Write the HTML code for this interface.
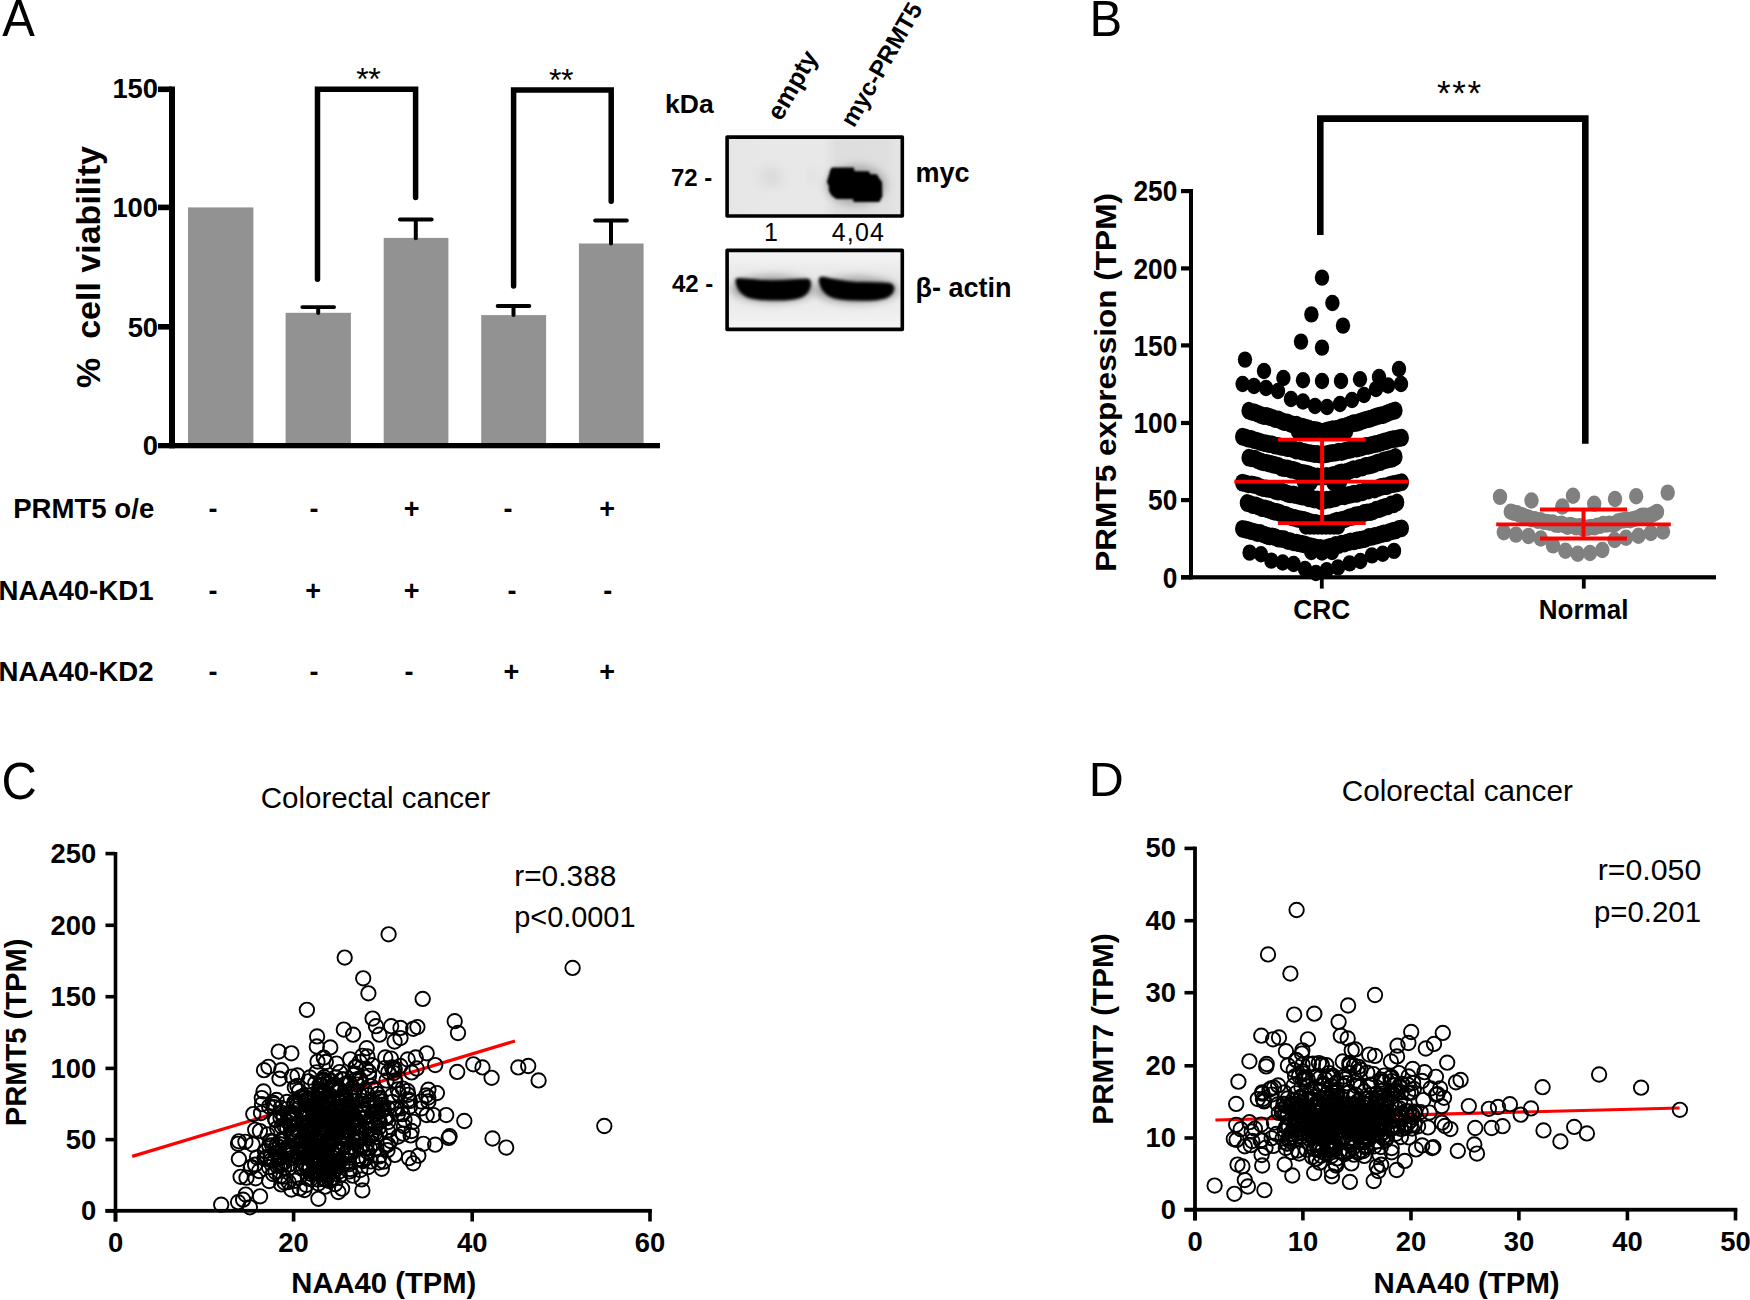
<!DOCTYPE html>
<html lang="en"><head><meta charset="utf-8"><title>Figure</title>
<style>
html,body{margin:0;padding:0;background:#fff;}
body{width:1750px;height:1300px;overflow:hidden;}
svg{display:block;}
svg text{font-family:"Liberation Sans", sans-serif;fill:#000;}
</style></head><body>
<svg width="1750" height="1300" viewBox="0 0 1750 1300">
<rect width="1750" height="1300" fill="#fff"/>
<g id="panelA">
<text transform="translate(2.2,36) scale(0.94,1)" font-size="52">A</text>
<rect x="188.00" y="207.40" width="65.40" height="236.60" fill="#929292"/>
<rect x="285.60" y="312.80" width="65.30" height="131.20" fill="#929292"/>
<rect x="383.70" y="237.90" width="64.70" height="206.10" fill="#929292"/>
<rect x="481.20" y="315.10" width="64.90" height="128.90" fill="#929292"/>
<rect x="578.90" y="243.50" width="64.70" height="200.50" fill="#929292"/>
<line x1="318.20" y1="307.70" x2="318.20" y2="313.00" stroke="#000" stroke-width="4" stroke-linecap="round"/>
<line x1="302.30" y1="307.10" x2="334.10" y2="307.10" stroke="#000" stroke-width="3.8" stroke-linecap="round"/>
<line x1="415.80" y1="220.10" x2="415.80" y2="238.30" stroke="#000" stroke-width="4" stroke-linecap="round"/>
<line x1="399.90" y1="219.50" x2="431.70" y2="219.50" stroke="#000" stroke-width="3.8" stroke-linecap="round"/>
<line x1="513.50" y1="306.60" x2="513.50" y2="315.00" stroke="#000" stroke-width="4" stroke-linecap="round"/>
<line x1="497.60" y1="306.00" x2="529.40" y2="306.00" stroke="#000" stroke-width="3.8" stroke-linecap="round"/>
<line x1="611.00" y1="221.10" x2="611.00" y2="243.50" stroke="#000" stroke-width="4" stroke-linecap="round"/>
<line x1="595.10" y1="220.50" x2="626.90" y2="220.50" stroke="#000" stroke-width="3.8" stroke-linecap="round"/>
<rect x="169.00" y="86.50" width="6.00" height="361.80" fill="#000"/>
<rect x="158.00" y="443.00" width="502.00" height="5.30" fill="#000"/>
<rect x="158.00" y="86.50" width="14.00" height="5.60" fill="#000"/>
<rect x="158.00" y="204.60" width="14.00" height="5.60" fill="#000"/>
<rect x="158.00" y="324.00" width="14.00" height="5.60" fill="#000"/>
<text x="158.1" y="98.3" font-size="27.4" font-weight="700" text-anchor="end">150</text>
<text x="158.1" y="217.2" font-size="27.4" font-weight="700" text-anchor="end">100</text>
<text x="158.1" y="336.5" font-size="27.4" font-weight="700" text-anchor="end">50</text>
<text x="158.1" y="455.1" font-size="27.4" font-weight="700" text-anchor="end">0</text>
<text transform="translate(99.8,267) rotate(-90)" font-size="34" font-weight="700" text-anchor="middle" style="white-space:pre">%  cell viability</text>
<path d="M317.5 279.35 V89.2 H415.6 V197.45" fill="none" stroke="#000" stroke-width="5.5" stroke-linecap="round" stroke-linejoin="miter"/>
<path d="M513.6 286.05 V90.1 H611.2 V201.25" fill="none" stroke="#000" stroke-width="5.5" stroke-linecap="round" stroke-linejoin="miter"/>
<text x="368.3" y="90.0" font-size="32" text-anchor="middle" letter-spacing="-0.5">**</text>
<text x="560.9" y="90.9" font-size="32" text-anchor="middle" letter-spacing="-0.5">**</text>
<text x="13.2" y="518" font-size="27.6" font-weight="700" text-anchor="start">PRMT5 o/e</text>
<text x="-1.4" y="599.6" font-size="27.6" font-weight="700" text-anchor="start">NAA40-KD1</text>
<text x="-1.4" y="680.6" font-size="27.6" font-weight="700" text-anchor="start">NAA40-KD2</text>
<text x="213" y="518" font-size="27" font-weight="700" text-anchor="middle">-</text>
<text x="314" y="518" font-size="27" font-weight="700" text-anchor="middle">-</text>
<text x="411.6" y="518" font-size="27" font-weight="700" text-anchor="middle">+</text>
<text x="508" y="518" font-size="27" font-weight="700" text-anchor="middle">-</text>
<text x="607.2" y="518" font-size="27" font-weight="700" text-anchor="middle">+</text>
<text x="213" y="599.6" font-size="27" font-weight="700" text-anchor="middle">-</text>
<text x="313.2" y="599.6" font-size="27" font-weight="700" text-anchor="middle">+</text>
<text x="411.6" y="599.6" font-size="27" font-weight="700" text-anchor="middle">+</text>
<text x="512" y="599.6" font-size="27" font-weight="700" text-anchor="middle">-</text>
<text x="607.8" y="599.6" font-size="27" font-weight="700" text-anchor="middle">-</text>
<text x="213" y="680.6" font-size="27" font-weight="700" text-anchor="middle">-</text>
<text x="314" y="680.6" font-size="27" font-weight="700" text-anchor="middle">-</text>
<text x="409" y="680.6" font-size="27" font-weight="700" text-anchor="middle">-</text>
<text x="511.5" y="680.6" font-size="27" font-weight="700" text-anchor="middle">+</text>
<text x="607.2" y="680.6" font-size="27" font-weight="700" text-anchor="middle">+</text>
</g>
<g id="blot">
<defs>
<filter id="bl1" x="-20%" y="-20%" width="140%" height="140%"><feGaussianBlur stdDeviation="1.0"/></filter>
<filter id="bl2" x="-20%" y="-30%" width="140%" height="160%"><feGaussianBlur stdDeviation="1.7"/></filter>
<filter id="bl4" x="-50%" y="-100%" width="200%" height="300%"><feGaussianBlur stdDeviation="4.5"/></filter>
<filter id="bl3" x="-50%" y="-50%" width="200%" height="200%"><feGaussianBlur stdDeviation="7"/></filter>
<linearGradient id="g1" x1="0" x2="1" y1="0" y2="0"><stop offset="0" stop-color="#e6e6e6"/><stop offset="0.25" stop-color="#e8e8e8"/><stop offset="0.55" stop-color="#e8e8e8"/><stop offset="0.62" stop-color="#dedede"/><stop offset="0.9" stop-color="#dfdfdf"/><stop offset="1" stop-color="#e6e6e6"/></linearGradient>
<linearGradient id="g2" x1="0" x2="0" y1="0" y2="1"><stop offset="0" stop-color="#f4f4f4"/><stop offset="0.3" stop-color="#e9e9e9"/><stop offset="0.75" stop-color="#ededed"/><stop offset="1" stop-color="#f5f5f5"/></linearGradient>
<clipPath id="c1"><rect x="727" y="136.5" width="176" height="80"/></clipPath>
<clipPath id="c2"><rect x="727" y="250" width="176" height="80"/></clipPath>
</defs>
<rect x="727" y="136.5" width="176" height="80" fill="url(#g1)"/>
<g clip-path="url(#c1)">
<ellipse cx="771" cy="177" rx="11" ry="8" fill="#d4d4d4" filter="url(#bl3)"/>
<ellipse cx="813" cy="176" rx="4" ry="6" fill="#d8d8d8" filter="url(#bl3)"/>
<ellipse cx="856" cy="185" rx="30" ry="20" fill="#a8a8a8" filter="url(#bl4)"/>
<path d="M832.1 168 L853.2 168 L854.2 171.6 L868.6 171.9 L869.9 174.7 L876.4 174.9 L878.9 178.8 L881.5 182.4 L881.8 196.3 L878.9 201.4 L854.2 201.4 L853.2 198.4 L836.7 198.4 L832.1 195.3 L829.5 190.6 L829.5 186 L827.5 181.9 L829.8 174.2 L830.6 170.6 Z" fill="#000" stroke="#000" stroke-width="1.2" stroke-linejoin="round" filter="url(#bl1)"/>
</g>
<rect x="727.1" y="137.1" width="175.2" height="78.9" fill="none" stroke="#000" stroke-width="3.6" stroke-linejoin="round"/>
<rect x="727" y="250" width="176" height="80" fill="url(#g2)"/>
<g clip-path="url(#c2)">
<ellipse cx="773" cy="289" rx="42" ry="13" fill="#9a9a9a" filter="url(#bl4)"/>
<ellipse cx="856.5" cy="290" rx="42" ry="13" fill="#9a9a9a" filter="url(#bl4)"/>
<path d="M736 281 Q736.5 278 740 278.8 L760 280.6 Q775 281.3 790 280.3 L805 279.3 Q810 278.8 810.3 283 Q810.5 291 803 296 Q795 299.8 775 299.8 Q755 299.8 747 296.5 Q737.5 292 736 281 Z" fill="#000" stroke="#000" stroke-width="1.5" stroke-linejoin="round" filter="url(#bl2)"/>
<path d="M819.3 280 Q819.5 276.3 824 277.6 Q838 281.3 855 282.6 L885 283.3 Q893 283.3 893.6 288 Q893.5 294 886 297.5 Q878 300.2 860 300 Q838 299.7 830 296 Q820.5 291 819.3 280 Z" fill="#000" stroke="#000" stroke-width="1.5" stroke-linejoin="round" filter="url(#bl2)"/>
</g>
<rect x="727.1" y="250.4" width="175.2" height="79" fill="none" stroke="#000" stroke-width="3.6" stroke-linejoin="round"/>
<text x="665" y="113.4" font-size="26.5" font-weight="700" text-anchor="start">kDa</text>
<text x="671" y="186.2" font-size="24" font-weight="700" text-anchor="start">72 -</text>
<text x="672" y="291.5" font-size="24" font-weight="700" text-anchor="start">42 -</text>
<text x="915.5" y="181.9" font-size="27" font-weight="700" text-anchor="start">myc</text>
<text x="915.5" y="297" font-size="27" font-weight="700" text-anchor="start">β- actin</text>
<text x="771" y="240.6" font-size="25" text-anchor="middle">1</text>
<text x="858.5" y="240.6" font-size="25" text-anchor="middle" letter-spacing="1.2">4,04</text>
<text transform="translate(781,122) rotate(-60)" font-size="25.5" font-weight="700">empty</text>
<text transform="translate(854,128.5) rotate(-60)" font-size="24.2" font-weight="700">myc-PRMT5</text>
</g>
<g id="panelB">
<text transform="translate(1089.5,36) scale(0.99,1)" font-size="49.5">B</text>
<rect x="1189.00" y="189.00" width="4.00" height="390.40" fill="#000"/>
<rect x="1181.00" y="575.20" width="535.00" height="4.20" fill="#000"/>
<rect x="1181.00" y="189.00" width="10.00" height="4.20" fill="#000"/>
<text transform="translate(1177.3,201.3) scale(1,1.09)" font-size="26.3" font-weight="700" text-anchor="end">250</text>
<rect x="1181.00" y="266.30" width="10.00" height="4.20" fill="#000"/>
<text transform="translate(1177.3,278.6) scale(1,1.09)" font-size="26.3" font-weight="700" text-anchor="end">200</text>
<rect x="1181.00" y="343.30" width="10.00" height="4.20" fill="#000"/>
<text transform="translate(1177.3,355.6) scale(1,1.09)" font-size="26.3" font-weight="700" text-anchor="end">150</text>
<rect x="1181.00" y="420.90" width="10.00" height="4.20" fill="#000"/>
<text transform="translate(1177.3,433.2) scale(1,1.09)" font-size="26.3" font-weight="700" text-anchor="end">100</text>
<rect x="1181.00" y="498.00" width="10.00" height="4.20" fill="#000"/>
<text transform="translate(1177.3,510.3) scale(1,1.09)" font-size="26.3" font-weight="700" text-anchor="end">50</text>
<rect x="1181.00" y="575.20" width="10.00" height="4.20" fill="#000"/>
<text transform="translate(1177.3,587.5) scale(1,1.09)" font-size="26.3" font-weight="700" text-anchor="end">0</text>
<rect x="1319.90" y="577.00" width="3.80" height="11.60" fill="#000"/>
<rect x="1581.90" y="577.00" width="3.80" height="11.60" fill="#000"/>
<text transform="translate(1321.8,619.2) scale(1,1.06)" font-size="26.3" font-weight="700" text-anchor="middle">CRC</text>
<text transform="translate(1583.6,619.3) scale(1,1.04)" font-size="26" font-weight="700" text-anchor="middle">Normal</text>
<text transform="translate(1115.5,382.4) scale(1,1.045) rotate(-90)" font-size="30.2" font-weight="700" text-anchor="middle">PRMT5 expression (TPM)</text>
<path d="M1320.3 235 V118.6 H1585.3 V443.8" fill="none" stroke="#000" stroke-width="6.6" stroke-linejoin="miter"/>
<text x="1459.9" y="104.7" font-size="35" text-anchor="middle" letter-spacing="1.7">***</text>
<g fill="#000">
<ellipse cx="1322.0" cy="277.6" rx="7.2" ry="8.2"/>
<ellipse cx="1332.4" cy="303.0" rx="7.2" ry="8.2"/>
<ellipse cx="1311.4" cy="314.4" rx="7.2" ry="8.2"/>
<ellipse cx="1343.0" cy="325.6" rx="7.2" ry="8.2"/>
<ellipse cx="1301.0" cy="341.6" rx="7.2" ry="8.2"/>
<ellipse cx="1322.0" cy="347.6" rx="7.2" ry="8.2"/>
<ellipse cx="1245.0" cy="359.6" rx="7.2" ry="8.2"/>
<ellipse cx="1399.0" cy="369.0" rx="7.2" ry="8.2"/>
<ellipse cx="1264.0" cy="371.0" rx="7.2" ry="8.2"/>
<ellipse cx="1283.4" cy="378.0" rx="7.2" ry="8.2"/>
<ellipse cx="1303.0" cy="380.3" rx="7.2" ry="8.2"/>
<ellipse cx="1322.0" cy="381.0" rx="7.2" ry="8.2"/>
<ellipse cx="1341.0" cy="381.0" rx="7.2" ry="8.2"/>
<ellipse cx="1360.0" cy="379.3" rx="7.2" ry="8.2"/>
<ellipse cx="1379.0" cy="377.0" rx="7.2" ry="8.2"/>
<ellipse cx="1242.6" cy="384.0" rx="7.2" ry="8.2"/>
<ellipse cx="1254.0" cy="386.0" rx="7.2" ry="8.2"/>
<ellipse cx="1266.0" cy="388.0" rx="7.2" ry="8.2"/>
<ellipse cx="1278.0" cy="391.0" rx="7.2" ry="8.2"/>
<ellipse cx="1291.0" cy="399.0" rx="7.2" ry="8.2"/>
<ellipse cx="1303.0" cy="401.5" rx="7.2" ry="8.2"/>
<ellipse cx="1315.0" cy="406.0" rx="7.2" ry="8.2"/>
<ellipse cx="1327.0" cy="407.0" rx="7.2" ry="8.2"/>
<ellipse cx="1340.0" cy="404.0" rx="7.2" ry="8.2"/>
<ellipse cx="1352.0" cy="400.0" rx="7.2" ry="8.2"/>
<ellipse cx="1364.0" cy="395.0" rx="7.2" ry="8.2"/>
<ellipse cx="1376.0" cy="389.0" rx="7.2" ry="8.2"/>
<ellipse cx="1388.0" cy="385.5" rx="7.2" ry="8.2"/>
<ellipse cx="1401.0" cy="384.0" rx="7.2" ry="8.2"/>
<ellipse cx="1298.0" cy="431.5" rx="7.2" ry="8.2"/>
<ellipse cx="1302.0" cy="431.5" rx="7.2" ry="8.2"/>
<ellipse cx="1306.0" cy="431.5" rx="7.2" ry="8.2"/>
<ellipse cx="1310.0" cy="431.5" rx="7.2" ry="8.2"/>
<ellipse cx="1314.0" cy="431.5" rx="7.2" ry="8.2"/>
<ellipse cx="1318.0" cy="431.5" rx="7.2" ry="8.2"/>
<ellipse cx="1322.0" cy="431.5" rx="7.2" ry="8.2"/>
<ellipse cx="1326.0" cy="431.5" rx="7.2" ry="8.2"/>
<ellipse cx="1330.0" cy="431.5" rx="7.2" ry="8.2"/>
<ellipse cx="1334.0" cy="431.5" rx="7.2" ry="8.2"/>
<ellipse cx="1338.0" cy="431.5" rx="7.2" ry="8.2"/>
<ellipse cx="1342.0" cy="431.5" rx="7.2" ry="8.2"/>
<ellipse cx="1346.0" cy="431.5" rx="7.2" ry="8.2"/>
<ellipse cx="1304.0" cy="482.0" rx="7.2" ry="8.2"/>
<ellipse cx="1310.5" cy="483.0" rx="7.2" ry="8.2"/>
<ellipse cx="1333.5" cy="483.0" rx="7.2" ry="8.2"/>
<ellipse cx="1340.0" cy="482.0" rx="7.2" ry="8.2"/>
<ellipse cx="1306.0" cy="526.5" rx="7.2" ry="8.2"/>
<ellipse cx="1310.0" cy="526.5" rx="7.2" ry="8.2"/>
<ellipse cx="1314.0" cy="526.5" rx="7.2" ry="8.2"/>
<ellipse cx="1318.0" cy="526.5" rx="7.2" ry="8.2"/>
<ellipse cx="1322.0" cy="526.5" rx="7.2" ry="8.2"/>
<ellipse cx="1326.0" cy="526.5" rx="7.2" ry="8.2"/>
<ellipse cx="1330.0" cy="526.5" rx="7.2" ry="8.2"/>
<ellipse cx="1334.0" cy="526.5" rx="7.2" ry="8.2"/>
<ellipse cx="1338.0" cy="526.5" rx="7.2" ry="8.2"/>
<ellipse cx="1311.3" cy="552.0" rx="7.2" ry="8.2"/>
<ellipse cx="1322.0" cy="552.5" rx="7.2" ry="8.2"/>
<ellipse cx="1332.0" cy="552.0" rx="7.2" ry="8.2"/>
<ellipse cx="1249.6" cy="552.6" rx="7.2" ry="8.2"/>
<ellipse cx="1261.0" cy="554.3" rx="7.2" ry="8.2"/>
<ellipse cx="1271.3" cy="560.6" rx="7.2" ry="8.2"/>
<ellipse cx="1282.7" cy="562.5" rx="7.2" ry="8.2"/>
<ellipse cx="1293.6" cy="564.0" rx="7.2" ry="8.2"/>
<ellipse cx="1305.0" cy="569.0" rx="7.2" ry="8.2"/>
<ellipse cx="1315.9" cy="573.0" rx="7.2" ry="8.2"/>
<ellipse cx="1326.7" cy="570.3" rx="7.2" ry="8.2"/>
<ellipse cx="1338.0" cy="567.4" rx="7.2" ry="8.2"/>
<ellipse cx="1349.6" cy="563.4" rx="7.2" ry="8.2"/>
<ellipse cx="1360.4" cy="561.0" rx="7.2" ry="8.2"/>
<ellipse cx="1371.9" cy="555.4" rx="7.2" ry="8.2"/>
<ellipse cx="1382.7" cy="553.7" rx="7.2" ry="8.2"/>
<ellipse cx="1394.0" cy="550.9" rx="7.2" ry="8.2"/>
<ellipse cx="1248.7" cy="410.7" rx="7.3" ry="8.9"/>
<ellipse cx="1251.7" cy="411.8" rx="7.3" ry="8.9"/>
<ellipse cx="1254.7" cy="412.3" rx="7.3" ry="8.9"/>
<ellipse cx="1257.7" cy="413.6" rx="7.3" ry="8.9"/>
<ellipse cx="1260.7" cy="415.0" rx="7.3" ry="8.9"/>
<ellipse cx="1263.7" cy="416.0" rx="7.3" ry="8.9"/>
<ellipse cx="1266.7" cy="416.0" rx="7.3" ry="8.9"/>
<ellipse cx="1269.6" cy="417.0" rx="7.3" ry="8.9"/>
<ellipse cx="1272.6" cy="417.8" rx="7.3" ry="8.9"/>
<ellipse cx="1275.6" cy="419.1" rx="7.3" ry="8.9"/>
<ellipse cx="1278.6" cy="419.5" rx="7.3" ry="8.9"/>
<ellipse cx="1281.6" cy="421.0" rx="7.3" ry="8.9"/>
<ellipse cx="1284.6" cy="422.1" rx="7.3" ry="8.9"/>
<ellipse cx="1287.6" cy="422.5" rx="7.3" ry="8.9"/>
<ellipse cx="1290.6" cy="423.8" rx="7.3" ry="8.9"/>
<ellipse cx="1293.6" cy="424.6" rx="7.3" ry="8.9"/>
<ellipse cx="1296.6" cy="424.7" rx="7.3" ry="8.9"/>
<ellipse cx="1299.6" cy="426.2" rx="7.3" ry="8.9"/>
<ellipse cx="1302.6" cy="426.7" rx="7.3" ry="8.9"/>
<ellipse cx="1305.5" cy="427.7" rx="7.3" ry="8.9"/>
<ellipse cx="1308.5" cy="428.3" rx="7.3" ry="8.9"/>
<ellipse cx="1311.5" cy="429.6" rx="7.3" ry="8.9"/>
<ellipse cx="1314.5" cy="430.0" rx="7.3" ry="8.9"/>
<ellipse cx="1317.5" cy="430.5" rx="7.3" ry="8.9"/>
<ellipse cx="1320.5" cy="431.7" rx="7.3" ry="8.9"/>
<ellipse cx="1323.5" cy="432.0" rx="7.3" ry="8.9"/>
<ellipse cx="1326.5" cy="430.6" rx="7.3" ry="8.9"/>
<ellipse cx="1329.5" cy="429.8" rx="7.3" ry="8.9"/>
<ellipse cx="1332.5" cy="429.2" rx="7.3" ry="8.9"/>
<ellipse cx="1335.5" cy="429.1" rx="7.3" ry="8.9"/>
<ellipse cx="1338.5" cy="428.3" rx="7.3" ry="8.9"/>
<ellipse cx="1341.4" cy="427.2" rx="7.3" ry="8.9"/>
<ellipse cx="1344.4" cy="426.6" rx="7.3" ry="8.9"/>
<ellipse cx="1347.4" cy="425.7" rx="7.3" ry="8.9"/>
<ellipse cx="1350.4" cy="424.3" rx="7.3" ry="8.9"/>
<ellipse cx="1353.4" cy="423.1" rx="7.3" ry="8.9"/>
<ellipse cx="1356.4" cy="422.9" rx="7.3" ry="8.9"/>
<ellipse cx="1359.4" cy="422.0" rx="7.3" ry="8.9"/>
<ellipse cx="1362.4" cy="420.8" rx="7.3" ry="8.9"/>
<ellipse cx="1365.4" cy="419.8" rx="7.3" ry="8.9"/>
<ellipse cx="1368.4" cy="419.1" rx="7.3" ry="8.9"/>
<ellipse cx="1371.4" cy="418.3" rx="7.3" ry="8.9"/>
<ellipse cx="1374.4" cy="417.1" rx="7.3" ry="8.9"/>
<ellipse cx="1377.3" cy="416.2" rx="7.3" ry="8.9"/>
<ellipse cx="1380.3" cy="415.4" rx="7.3" ry="8.9"/>
<ellipse cx="1383.3" cy="415.0" rx="7.3" ry="8.9"/>
<ellipse cx="1386.3" cy="413.7" rx="7.3" ry="8.9"/>
<ellipse cx="1389.3" cy="412.3" rx="7.3" ry="8.9"/>
<ellipse cx="1392.3" cy="411.3" rx="7.3" ry="8.9"/>
<ellipse cx="1395.3" cy="410.5" rx="7.3" ry="8.9"/>
<ellipse cx="1242.3" cy="436.7" rx="7.3" ry="8.9"/>
<ellipse cx="1245.3" cy="437.5" rx="7.3" ry="8.9"/>
<ellipse cx="1248.3" cy="438.7" rx="7.3" ry="8.9"/>
<ellipse cx="1251.3" cy="439.0" rx="7.3" ry="8.9"/>
<ellipse cx="1254.3" cy="440.2" rx="7.3" ry="8.9"/>
<ellipse cx="1257.3" cy="440.8" rx="7.3" ry="8.9"/>
<ellipse cx="1260.3" cy="442.0" rx="7.3" ry="8.9"/>
<ellipse cx="1263.4" cy="442.8" rx="7.3" ry="8.9"/>
<ellipse cx="1266.4" cy="443.4" rx="7.3" ry="8.9"/>
<ellipse cx="1269.4" cy="444.2" rx="7.3" ry="8.9"/>
<ellipse cx="1272.4" cy="444.5" rx="7.3" ry="8.9"/>
<ellipse cx="1275.4" cy="445.6" rx="7.3" ry="8.9"/>
<ellipse cx="1278.4" cy="445.9" rx="7.3" ry="8.9"/>
<ellipse cx="1281.4" cy="446.9" rx="7.3" ry="8.9"/>
<ellipse cx="1284.4" cy="447.2" rx="7.3" ry="8.9"/>
<ellipse cx="1287.4" cy="448.1" rx="7.3" ry="8.9"/>
<ellipse cx="1290.4" cy="448.3" rx="7.3" ry="8.9"/>
<ellipse cx="1293.4" cy="449.2" rx="7.3" ry="8.9"/>
<ellipse cx="1296.4" cy="450.7" rx="7.3" ry="8.9"/>
<ellipse cx="1299.4" cy="450.5" rx="7.3" ry="8.9"/>
<ellipse cx="1302.5" cy="451.6" rx="7.3" ry="8.9"/>
<ellipse cx="1305.5" cy="452.2" rx="7.3" ry="8.9"/>
<ellipse cx="1308.5" cy="452.9" rx="7.3" ry="8.9"/>
<ellipse cx="1311.5" cy="453.3" rx="7.3" ry="8.9"/>
<ellipse cx="1314.5" cy="454.0" rx="7.3" ry="8.9"/>
<ellipse cx="1317.5" cy="454.0" rx="7.3" ry="8.9"/>
<ellipse cx="1320.5" cy="454.6" rx="7.3" ry="8.9"/>
<ellipse cx="1323.5" cy="454.7" rx="7.3" ry="8.9"/>
<ellipse cx="1326.5" cy="454.1" rx="7.3" ry="8.9"/>
<ellipse cx="1329.5" cy="453.4" rx="7.3" ry="8.9"/>
<ellipse cx="1332.5" cy="452.9" rx="7.3" ry="8.9"/>
<ellipse cx="1335.5" cy="452.7" rx="7.3" ry="8.9"/>
<ellipse cx="1338.5" cy="451.7" rx="7.3" ry="8.9"/>
<ellipse cx="1341.5" cy="452.0" rx="7.3" ry="8.9"/>
<ellipse cx="1344.6" cy="451.0" rx="7.3" ry="8.9"/>
<ellipse cx="1347.6" cy="450.2" rx="7.3" ry="8.9"/>
<ellipse cx="1350.6" cy="449.7" rx="7.3" ry="8.9"/>
<ellipse cx="1353.6" cy="448.5" rx="7.3" ry="8.9"/>
<ellipse cx="1356.6" cy="448.6" rx="7.3" ry="8.9"/>
<ellipse cx="1359.6" cy="447.9" rx="7.3" ry="8.9"/>
<ellipse cx="1362.6" cy="447.0" rx="7.3" ry="8.9"/>
<ellipse cx="1365.6" cy="446.0" rx="7.3" ry="8.9"/>
<ellipse cx="1368.6" cy="445.8" rx="7.3" ry="8.9"/>
<ellipse cx="1371.6" cy="444.9" rx="7.3" ry="8.9"/>
<ellipse cx="1374.6" cy="444.1" rx="7.3" ry="8.9"/>
<ellipse cx="1377.6" cy="443.7" rx="7.3" ry="8.9"/>
<ellipse cx="1380.6" cy="442.6" rx="7.3" ry="8.9"/>
<ellipse cx="1383.7" cy="441.6" rx="7.3" ry="8.9"/>
<ellipse cx="1386.7" cy="441.0" rx="7.3" ry="8.9"/>
<ellipse cx="1389.7" cy="439.8" rx="7.3" ry="8.9"/>
<ellipse cx="1392.7" cy="439.1" rx="7.3" ry="8.9"/>
<ellipse cx="1395.7" cy="438.9" rx="7.3" ry="8.9"/>
<ellipse cx="1398.7" cy="438.2" rx="7.3" ry="8.9"/>
<ellipse cx="1401.7" cy="437.7" rx="7.3" ry="8.9"/>
<ellipse cx="1248.7" cy="457.7" rx="7.3" ry="8.9"/>
<ellipse cx="1251.7" cy="458.3" rx="7.3" ry="8.9"/>
<ellipse cx="1254.7" cy="458.7" rx="7.3" ry="8.9"/>
<ellipse cx="1257.7" cy="460.1" rx="7.3" ry="8.9"/>
<ellipse cx="1260.7" cy="461.5" rx="7.3" ry="8.9"/>
<ellipse cx="1263.7" cy="462.3" rx="7.3" ry="8.9"/>
<ellipse cx="1266.7" cy="462.8" rx="7.3" ry="8.9"/>
<ellipse cx="1269.6" cy="463.7" rx="7.3" ry="8.9"/>
<ellipse cx="1272.6" cy="464.3" rx="7.3" ry="8.9"/>
<ellipse cx="1275.6" cy="465.1" rx="7.3" ry="8.9"/>
<ellipse cx="1278.6" cy="465.8" rx="7.3" ry="8.9"/>
<ellipse cx="1281.6" cy="467.6" rx="7.3" ry="8.9"/>
<ellipse cx="1284.6" cy="468.2" rx="7.3" ry="8.9"/>
<ellipse cx="1287.6" cy="468.4" rx="7.3" ry="8.9"/>
<ellipse cx="1290.6" cy="469.5" rx="7.3" ry="8.9"/>
<ellipse cx="1293.6" cy="469.9" rx="7.3" ry="8.9"/>
<ellipse cx="1296.6" cy="470.9" rx="7.3" ry="8.9"/>
<ellipse cx="1299.6" cy="472.3" rx="7.3" ry="8.9"/>
<ellipse cx="1302.6" cy="473.0" rx="7.3" ry="8.9"/>
<ellipse cx="1305.5" cy="473.5" rx="7.3" ry="8.9"/>
<ellipse cx="1308.5" cy="474.1" rx="7.3" ry="8.9"/>
<ellipse cx="1311.5" cy="475.3" rx="7.3" ry="8.9"/>
<ellipse cx="1314.5" cy="476.4" rx="7.3" ry="8.9"/>
<ellipse cx="1317.5" cy="476.5" rx="7.3" ry="8.9"/>
<ellipse cx="1320.5" cy="476.7" rx="7.3" ry="8.9"/>
<ellipse cx="1323.5" cy="476.7" rx="7.3" ry="8.9"/>
<ellipse cx="1326.5" cy="476.0" rx="7.3" ry="8.9"/>
<ellipse cx="1329.5" cy="476.4" rx="7.3" ry="8.9"/>
<ellipse cx="1332.5" cy="475.1" rx="7.3" ry="8.9"/>
<ellipse cx="1335.5" cy="474.7" rx="7.3" ry="8.9"/>
<ellipse cx="1338.5" cy="473.2" rx="7.3" ry="8.9"/>
<ellipse cx="1341.4" cy="472.5" rx="7.3" ry="8.9"/>
<ellipse cx="1344.4" cy="472.3" rx="7.3" ry="8.9"/>
<ellipse cx="1347.4" cy="471.7" rx="7.3" ry="8.9"/>
<ellipse cx="1350.4" cy="470.3" rx="7.3" ry="8.9"/>
<ellipse cx="1353.4" cy="469.1" rx="7.3" ry="8.9"/>
<ellipse cx="1356.4" cy="469.3" rx="7.3" ry="8.9"/>
<ellipse cx="1359.4" cy="467.8" rx="7.3" ry="8.9"/>
<ellipse cx="1362.4" cy="467.5" rx="7.3" ry="8.9"/>
<ellipse cx="1365.4" cy="465.9" rx="7.3" ry="8.9"/>
<ellipse cx="1368.4" cy="465.7" rx="7.3" ry="8.9"/>
<ellipse cx="1371.4" cy="465.0" rx="7.3" ry="8.9"/>
<ellipse cx="1374.4" cy="464.0" rx="7.3" ry="8.9"/>
<ellipse cx="1377.3" cy="462.7" rx="7.3" ry="8.9"/>
<ellipse cx="1380.3" cy="462.2" rx="7.3" ry="8.9"/>
<ellipse cx="1383.3" cy="460.6" rx="7.3" ry="8.9"/>
<ellipse cx="1386.3" cy="459.9" rx="7.3" ry="8.9"/>
<ellipse cx="1389.3" cy="459.1" rx="7.3" ry="8.9"/>
<ellipse cx="1392.3" cy="458.7" rx="7.3" ry="8.9"/>
<ellipse cx="1395.3" cy="456.9" rx="7.3" ry="8.9"/>
<ellipse cx="1242.3" cy="482.6" rx="7.3" ry="8.9"/>
<ellipse cx="1245.3" cy="483.3" rx="7.3" ry="8.9"/>
<ellipse cx="1248.3" cy="484.3" rx="7.3" ry="8.9"/>
<ellipse cx="1251.3" cy="484.3" rx="7.3" ry="8.9"/>
<ellipse cx="1254.3" cy="484.9" rx="7.3" ry="8.9"/>
<ellipse cx="1257.3" cy="485.7" rx="7.3" ry="8.9"/>
<ellipse cx="1260.3" cy="487.2" rx="7.3" ry="8.9"/>
<ellipse cx="1263.4" cy="488.1" rx="7.3" ry="8.9"/>
<ellipse cx="1266.4" cy="488.5" rx="7.3" ry="8.9"/>
<ellipse cx="1269.4" cy="489.0" rx="7.3" ry="8.9"/>
<ellipse cx="1272.4" cy="489.5" rx="7.3" ry="8.9"/>
<ellipse cx="1275.4" cy="490.9" rx="7.3" ry="8.9"/>
<ellipse cx="1278.4" cy="491.7" rx="7.3" ry="8.9"/>
<ellipse cx="1281.4" cy="491.4" rx="7.3" ry="8.9"/>
<ellipse cx="1284.4" cy="492.3" rx="7.3" ry="8.9"/>
<ellipse cx="1287.4" cy="493.7" rx="7.3" ry="8.9"/>
<ellipse cx="1290.4" cy="494.4" rx="7.3" ry="8.9"/>
<ellipse cx="1293.4" cy="494.5" rx="7.3" ry="8.9"/>
<ellipse cx="1296.4" cy="495.1" rx="7.3" ry="8.9"/>
<ellipse cx="1299.4" cy="495.9" rx="7.3" ry="8.9"/>
<ellipse cx="1302.5" cy="496.7" rx="7.3" ry="8.9"/>
<ellipse cx="1305.5" cy="496.8" rx="7.3" ry="8.9"/>
<ellipse cx="1308.5" cy="498.3" rx="7.3" ry="8.9"/>
<ellipse cx="1311.5" cy="498.6" rx="7.3" ry="8.9"/>
<ellipse cx="1314.5" cy="499.5" rx="7.3" ry="8.9"/>
<ellipse cx="1317.5" cy="499.5" rx="7.3" ry="8.9"/>
<ellipse cx="1320.5" cy="501.0" rx="7.3" ry="8.9"/>
<ellipse cx="1323.5" cy="500.7" rx="7.3" ry="8.9"/>
<ellipse cx="1326.5" cy="499.6" rx="7.3" ry="8.9"/>
<ellipse cx="1329.5" cy="499.7" rx="7.3" ry="8.9"/>
<ellipse cx="1332.5" cy="498.8" rx="7.3" ry="8.9"/>
<ellipse cx="1335.5" cy="498.3" rx="7.3" ry="8.9"/>
<ellipse cx="1338.5" cy="496.8" rx="7.3" ry="8.9"/>
<ellipse cx="1341.5" cy="496.1" rx="7.3" ry="8.9"/>
<ellipse cx="1344.6" cy="496.3" rx="7.3" ry="8.9"/>
<ellipse cx="1347.6" cy="495.1" rx="7.3" ry="8.9"/>
<ellipse cx="1350.6" cy="494.7" rx="7.3" ry="8.9"/>
<ellipse cx="1353.6" cy="493.6" rx="7.3" ry="8.9"/>
<ellipse cx="1356.6" cy="493.9" rx="7.3" ry="8.9"/>
<ellipse cx="1359.6" cy="492.6" rx="7.3" ry="8.9"/>
<ellipse cx="1362.6" cy="492.3" rx="7.3" ry="8.9"/>
<ellipse cx="1365.6" cy="490.7" rx="7.3" ry="8.9"/>
<ellipse cx="1368.6" cy="490.5" rx="7.3" ry="8.9"/>
<ellipse cx="1371.6" cy="489.2" rx="7.3" ry="8.9"/>
<ellipse cx="1374.6" cy="489.5" rx="7.3" ry="8.9"/>
<ellipse cx="1377.6" cy="488.2" rx="7.3" ry="8.9"/>
<ellipse cx="1380.6" cy="487.0" rx="7.3" ry="8.9"/>
<ellipse cx="1383.7" cy="486.3" rx="7.3" ry="8.9"/>
<ellipse cx="1386.7" cy="486.1" rx="7.3" ry="8.9"/>
<ellipse cx="1389.7" cy="484.8" rx="7.3" ry="8.9"/>
<ellipse cx="1392.7" cy="484.1" rx="7.3" ry="8.9"/>
<ellipse cx="1395.7" cy="483.6" rx="7.3" ry="8.9"/>
<ellipse cx="1398.7" cy="482.9" rx="7.3" ry="8.9"/>
<ellipse cx="1401.7" cy="482.2" rx="7.3" ry="8.9"/>
<ellipse cx="1247.0" cy="503.0" rx="7.3" ry="8.9"/>
<ellipse cx="1250.0" cy="503.8" rx="7.3" ry="8.9"/>
<ellipse cx="1253.0" cy="505.1" rx="7.3" ry="8.9"/>
<ellipse cx="1256.0" cy="505.5" rx="7.3" ry="8.9"/>
<ellipse cx="1259.0" cy="506.6" rx="7.3" ry="8.9"/>
<ellipse cx="1262.0" cy="508.2" rx="7.3" ry="8.9"/>
<ellipse cx="1265.0" cy="508.4" rx="7.3" ry="8.9"/>
<ellipse cx="1268.0" cy="509.4" rx="7.3" ry="8.9"/>
<ellipse cx="1271.0" cy="510.4" rx="7.3" ry="8.9"/>
<ellipse cx="1274.0" cy="511.6" rx="7.3" ry="8.9"/>
<ellipse cx="1277.0" cy="511.9" rx="7.3" ry="8.9"/>
<ellipse cx="1280.0" cy="512.9" rx="7.3" ry="8.9"/>
<ellipse cx="1283.0" cy="514.3" rx="7.3" ry="8.9"/>
<ellipse cx="1286.0" cy="514.8" rx="7.3" ry="8.9"/>
<ellipse cx="1289.0" cy="516.3" rx="7.3" ry="8.9"/>
<ellipse cx="1292.0" cy="517.3" rx="7.3" ry="8.9"/>
<ellipse cx="1295.0" cy="517.9" rx="7.3" ry="8.9"/>
<ellipse cx="1298.0" cy="518.9" rx="7.3" ry="8.9"/>
<ellipse cx="1301.0" cy="519.3" rx="7.3" ry="8.9"/>
<ellipse cx="1304.0" cy="519.8" rx="7.3" ry="8.9"/>
<ellipse cx="1307.0" cy="521.0" rx="7.3" ry="8.9"/>
<ellipse cx="1310.0" cy="521.8" rx="7.3" ry="8.9"/>
<ellipse cx="1313.0" cy="522.8" rx="7.3" ry="8.9"/>
<ellipse cx="1316.0" cy="523.0" rx="7.3" ry="8.9"/>
<ellipse cx="1319.0" cy="523.9" rx="7.3" ry="8.9"/>
<ellipse cx="1322.0" cy="525.4" rx="7.3" ry="8.9"/>
<ellipse cx="1325.0" cy="524.0" rx="7.3" ry="8.9"/>
<ellipse cx="1328.0" cy="523.4" rx="7.3" ry="8.9"/>
<ellipse cx="1331.0" cy="523.2" rx="7.3" ry="8.9"/>
<ellipse cx="1334.0" cy="521.6" rx="7.3" ry="8.9"/>
<ellipse cx="1337.0" cy="520.7" rx="7.3" ry="8.9"/>
<ellipse cx="1340.0" cy="520.5" rx="7.3" ry="8.9"/>
<ellipse cx="1343.0" cy="519.6" rx="7.3" ry="8.9"/>
<ellipse cx="1346.0" cy="518.8" rx="7.3" ry="8.9"/>
<ellipse cx="1349.0" cy="517.3" rx="7.3" ry="8.9"/>
<ellipse cx="1352.0" cy="516.9" rx="7.3" ry="8.9"/>
<ellipse cx="1355.0" cy="515.5" rx="7.3" ry="8.9"/>
<ellipse cx="1358.0" cy="514.9" rx="7.3" ry="8.9"/>
<ellipse cx="1361.0" cy="514.6" rx="7.3" ry="8.9"/>
<ellipse cx="1364.0" cy="512.9" rx="7.3" ry="8.9"/>
<ellipse cx="1367.0" cy="512.3" rx="7.3" ry="8.9"/>
<ellipse cx="1370.0" cy="512.2" rx="7.3" ry="8.9"/>
<ellipse cx="1373.0" cy="511.3" rx="7.3" ry="8.9"/>
<ellipse cx="1376.0" cy="509.7" rx="7.3" ry="8.9"/>
<ellipse cx="1379.0" cy="509.1" rx="7.3" ry="8.9"/>
<ellipse cx="1382.0" cy="508.0" rx="7.3" ry="8.9"/>
<ellipse cx="1385.0" cy="506.8" rx="7.3" ry="8.9"/>
<ellipse cx="1388.0" cy="506.3" rx="7.3" ry="8.9"/>
<ellipse cx="1391.0" cy="504.5" rx="7.3" ry="8.9"/>
<ellipse cx="1394.0" cy="504.3" rx="7.3" ry="8.9"/>
<ellipse cx="1397.0" cy="502.4" rx="7.3" ry="8.9"/>
<ellipse cx="1242.3" cy="528.8" rx="7.3" ry="8.9"/>
<ellipse cx="1245.3" cy="529.5" rx="7.3" ry="8.9"/>
<ellipse cx="1248.3" cy="530.1" rx="7.3" ry="8.9"/>
<ellipse cx="1251.3" cy="531.2" rx="7.3" ry="8.9"/>
<ellipse cx="1254.3" cy="531.8" rx="7.3" ry="8.9"/>
<ellipse cx="1257.3" cy="533.0" rx="7.3" ry="8.9"/>
<ellipse cx="1260.3" cy="533.0" rx="7.3" ry="8.9"/>
<ellipse cx="1263.4" cy="534.3" rx="7.3" ry="8.9"/>
<ellipse cx="1266.4" cy="535.5" rx="7.3" ry="8.9"/>
<ellipse cx="1269.4" cy="536.4" rx="7.3" ry="8.9"/>
<ellipse cx="1272.4" cy="536.4" rx="7.3" ry="8.9"/>
<ellipse cx="1275.4" cy="537.2" rx="7.3" ry="8.9"/>
<ellipse cx="1278.4" cy="538.7" rx="7.3" ry="8.9"/>
<ellipse cx="1281.4" cy="538.8" rx="7.3" ry="8.9"/>
<ellipse cx="1284.4" cy="539.2" rx="7.3" ry="8.9"/>
<ellipse cx="1287.4" cy="540.8" rx="7.3" ry="8.9"/>
<ellipse cx="1290.4" cy="541.2" rx="7.3" ry="8.9"/>
<ellipse cx="1293.4" cy="542.3" rx="7.3" ry="8.9"/>
<ellipse cx="1296.4" cy="542.7" rx="7.3" ry="8.9"/>
<ellipse cx="1299.4" cy="543.4" rx="7.3" ry="8.9"/>
<ellipse cx="1302.5" cy="544.0" rx="7.3" ry="8.9"/>
<ellipse cx="1305.5" cy="544.6" rx="7.3" ry="8.9"/>
<ellipse cx="1308.5" cy="546.0" rx="7.3" ry="8.9"/>
<ellipse cx="1311.5" cy="546.4" rx="7.3" ry="8.9"/>
<ellipse cx="1314.5" cy="547.2" rx="7.3" ry="8.9"/>
<ellipse cx="1317.5" cy="548.0" rx="7.3" ry="8.9"/>
<ellipse cx="1320.5" cy="547.9" rx="7.3" ry="8.9"/>
<ellipse cx="1323.5" cy="548.7" rx="7.3" ry="8.9"/>
<ellipse cx="1326.5" cy="548.0" rx="7.3" ry="8.9"/>
<ellipse cx="1329.5" cy="546.9" rx="7.3" ry="8.9"/>
<ellipse cx="1332.5" cy="546.3" rx="7.3" ry="8.9"/>
<ellipse cx="1335.5" cy="545.0" rx="7.3" ry="8.9"/>
<ellipse cx="1338.5" cy="545.1" rx="7.3" ry="8.9"/>
<ellipse cx="1341.5" cy="543.7" rx="7.3" ry="8.9"/>
<ellipse cx="1344.6" cy="543.5" rx="7.3" ry="8.9"/>
<ellipse cx="1347.6" cy="542.3" rx="7.3" ry="8.9"/>
<ellipse cx="1350.6" cy="541.5" rx="7.3" ry="8.9"/>
<ellipse cx="1353.6" cy="541.4" rx="7.3" ry="8.9"/>
<ellipse cx="1356.6" cy="540.5" rx="7.3" ry="8.9"/>
<ellipse cx="1359.6" cy="540.0" rx="7.3" ry="8.9"/>
<ellipse cx="1362.6" cy="539.4" rx="7.3" ry="8.9"/>
<ellipse cx="1365.6" cy="538.8" rx="7.3" ry="8.9"/>
<ellipse cx="1368.6" cy="537.0" rx="7.3" ry="8.9"/>
<ellipse cx="1371.6" cy="536.9" rx="7.3" ry="8.9"/>
<ellipse cx="1374.6" cy="536.0" rx="7.3" ry="8.9"/>
<ellipse cx="1377.6" cy="535.3" rx="7.3" ry="8.9"/>
<ellipse cx="1380.6" cy="534.3" rx="7.3" ry="8.9"/>
<ellipse cx="1383.7" cy="533.5" rx="7.3" ry="8.9"/>
<ellipse cx="1386.7" cy="533.1" rx="7.3" ry="8.9"/>
<ellipse cx="1389.7" cy="531.8" rx="7.3" ry="8.9"/>
<ellipse cx="1392.7" cy="531.0" rx="7.3" ry="8.9"/>
<ellipse cx="1395.7" cy="530.4" rx="7.3" ry="8.9"/>
<ellipse cx="1398.7" cy="528.8" rx="7.3" ry="8.9"/>
<ellipse cx="1401.7" cy="528.3" rx="7.3" ry="8.9"/>
</g>
<line x1="1234.30" y1="481.60" x2="1408.70" y2="481.60" stroke="#f00" stroke-width="3.8" stroke-linecap="butt"/>
<line x1="1277.90" y1="439.70" x2="1365.70" y2="439.70" stroke="#f00" stroke-width="3.8" stroke-linecap="butt"/>
<line x1="1277.90" y1="523.10" x2="1365.70" y2="523.10" stroke="#f00" stroke-width="3.8" stroke-linecap="butt"/>
<line x1="1322.10" y1="439.70" x2="1322.10" y2="523.10" stroke="#f00" stroke-width="4" stroke-linecap="butt"/>
<g fill="#808080">
<ellipse cx="1500.0" cy="496.9" rx="7.2" ry="8.2"/>
<ellipse cx="1531.5" cy="500.5" rx="7.2" ry="8.2"/>
<ellipse cx="1573.0" cy="495.7" rx="7.2" ry="8.2"/>
<ellipse cx="1562.3" cy="506.5" rx="7.2" ry="8.2"/>
<ellipse cx="1594.2" cy="503.8" rx="7.2" ry="8.2"/>
<ellipse cx="1615.0" cy="499.0" rx="7.2" ry="8.2"/>
<ellipse cx="1636.2" cy="496.2" rx="7.2" ry="8.2"/>
<ellipse cx="1667.7" cy="492.6" rx="7.2" ry="8.2"/>
<ellipse cx="1510.8" cy="511.8" rx="7.2" ry="8.2"/>
<ellipse cx="1513.8" cy="512.8" rx="7.2" ry="8.2"/>
<ellipse cx="1516.8" cy="513.3" rx="7.2" ry="8.2"/>
<ellipse cx="1519.8" cy="514.6" rx="7.2" ry="8.2"/>
<ellipse cx="1522.7" cy="515.5" rx="7.2" ry="8.2"/>
<ellipse cx="1525.7" cy="517.0" rx="7.2" ry="8.2"/>
<ellipse cx="1528.7" cy="517.8" rx="7.2" ry="8.2"/>
<ellipse cx="1531.7" cy="519.2" rx="7.2" ry="8.2"/>
<ellipse cx="1534.7" cy="519.1" rx="7.2" ry="8.2"/>
<ellipse cx="1537.7" cy="520.8" rx="7.2" ry="8.2"/>
<ellipse cx="1540.6" cy="520.2" rx="7.2" ry="8.2"/>
<ellipse cx="1543.6" cy="521.7" rx="7.2" ry="8.2"/>
<ellipse cx="1546.6" cy="521.9" rx="7.2" ry="8.2"/>
<ellipse cx="1549.6" cy="522.7" rx="7.2" ry="8.2"/>
<ellipse cx="1552.6" cy="522.4" rx="7.2" ry="8.2"/>
<ellipse cx="1555.6" cy="524.6" rx="7.2" ry="8.2"/>
<ellipse cx="1558.5" cy="524.7" rx="7.2" ry="8.2"/>
<ellipse cx="1561.5" cy="523.7" rx="7.2" ry="8.2"/>
<ellipse cx="1564.5" cy="525.2" rx="7.2" ry="8.2"/>
<ellipse cx="1567.5" cy="526.7" rx="7.2" ry="8.2"/>
<ellipse cx="1570.5" cy="524.9" rx="7.2" ry="8.2"/>
<ellipse cx="1573.5" cy="525.9" rx="7.2" ry="8.2"/>
<ellipse cx="1576.4" cy="527.4" rx="7.2" ry="8.2"/>
<ellipse cx="1579.4" cy="526.1" rx="7.2" ry="8.2"/>
<ellipse cx="1582.4" cy="528.1" rx="7.2" ry="8.2"/>
<ellipse cx="1585.4" cy="527.7" rx="7.2" ry="8.2"/>
<ellipse cx="1588.4" cy="527.7" rx="7.2" ry="8.2"/>
<ellipse cx="1591.4" cy="526.9" rx="7.2" ry="8.2"/>
<ellipse cx="1594.3" cy="527.4" rx="7.2" ry="8.2"/>
<ellipse cx="1597.3" cy="525.6" rx="7.2" ry="8.2"/>
<ellipse cx="1600.3" cy="525.7" rx="7.2" ry="8.2"/>
<ellipse cx="1603.3" cy="523.9" rx="7.2" ry="8.2"/>
<ellipse cx="1606.3" cy="524.6" rx="7.2" ry="8.2"/>
<ellipse cx="1609.3" cy="523.8" rx="7.2" ry="8.2"/>
<ellipse cx="1612.2" cy="524.6" rx="7.2" ry="8.2"/>
<ellipse cx="1615.2" cy="524.0" rx="7.2" ry="8.2"/>
<ellipse cx="1618.2" cy="521.4" rx="7.2" ry="8.2"/>
<ellipse cx="1621.2" cy="520.6" rx="7.2" ry="8.2"/>
<ellipse cx="1624.2" cy="520.2" rx="7.2" ry="8.2"/>
<ellipse cx="1627.2" cy="519.7" rx="7.2" ry="8.2"/>
<ellipse cx="1630.1" cy="520.3" rx="7.2" ry="8.2"/>
<ellipse cx="1633.1" cy="519.1" rx="7.2" ry="8.2"/>
<ellipse cx="1636.1" cy="518.4" rx="7.2" ry="8.2"/>
<ellipse cx="1639.1" cy="517.5" rx="7.2" ry="8.2"/>
<ellipse cx="1642.1" cy="515.6" rx="7.2" ry="8.2"/>
<ellipse cx="1645.1" cy="515.8" rx="7.2" ry="8.2"/>
<ellipse cx="1648.0" cy="516.4" rx="7.2" ry="8.2"/>
<ellipse cx="1651.0" cy="515.2" rx="7.2" ry="8.2"/>
<ellipse cx="1654.0" cy="513.7" rx="7.2" ry="8.2"/>
<ellipse cx="1657.0" cy="511.9" rx="7.2" ry="8.2"/>
<ellipse cx="1503.8" cy="532.3" rx="7.2" ry="8.2"/>
<ellipse cx="1516.0" cy="534.6" rx="7.2" ry="8.2"/>
<ellipse cx="1528.5" cy="536.0" rx="7.2" ry="8.2"/>
<ellipse cx="1540.8" cy="538.5" rx="7.2" ry="8.2"/>
<ellipse cx="1553.0" cy="545.4" rx="7.2" ry="8.2"/>
<ellipse cx="1565.4" cy="550.8" rx="7.2" ry="8.2"/>
<ellipse cx="1577.7" cy="553.8" rx="7.2" ry="8.2"/>
<ellipse cx="1590.0" cy="553.0" rx="7.2" ry="8.2"/>
<ellipse cx="1602.3" cy="550.0" rx="7.2" ry="8.2"/>
<ellipse cx="1614.6" cy="540.0" rx="7.2" ry="8.2"/>
<ellipse cx="1626.0" cy="537.7" rx="7.2" ry="8.2"/>
<ellipse cx="1638.5" cy="535.7" rx="7.2" ry="8.2"/>
<ellipse cx="1650.8" cy="533.0" rx="7.2" ry="8.2"/>
<ellipse cx="1663.0" cy="531.5" rx="7.2" ry="8.2"/>
</g>
<line x1="1496.20" y1="524.30" x2="1670.80" y2="524.30" stroke="#f00" stroke-width="3.8" stroke-linecap="butt"/>
<line x1="1540.00" y1="509.50" x2="1627.00" y2="509.50" stroke="#f00" stroke-width="3.8" stroke-linecap="butt"/>
<line x1="1540.00" y1="538.50" x2="1627.00" y2="538.50" stroke="#f00" stroke-width="3.8" stroke-linecap="butt"/>
<line x1="1583.50" y1="509.50" x2="1583.50" y2="538.50" stroke="#f00" stroke-width="4" stroke-linecap="butt"/>
</g>
<g id="panelC">
<text transform="translate(1.5,799) scale(0.95,1)" font-size="51.5">C</text>
<text x="375.5" y="807.6" font-size="29.5" text-anchor="middle">Colorectal cancer</text>
<line x1="132.20" y1="1156.40" x2="515.00" y2="1041.00" stroke="#f00" stroke-width="3.2" stroke-linecap="butt"/>
<g fill="none" stroke="#000" stroke-width="1.9">
<circle cx="381.1" cy="1104.9" r="7.2"/>
<circle cx="328.1" cy="1142.8" r="7.2"/>
<circle cx="301.8" cy="1138.8" r="7.2"/>
<circle cx="327.0" cy="1084.3" r="7.2"/>
<circle cx="359.6" cy="1139.6" r="7.2"/>
<circle cx="307.0" cy="1132.7" r="7.2"/>
<circle cx="343.2" cy="1120.6" r="7.2"/>
<circle cx="319.2" cy="1094.6" r="7.2"/>
<circle cx="344.7" cy="1130.6" r="7.2"/>
<circle cx="335.8" cy="1088.2" r="7.2"/>
<circle cx="379.8" cy="1122.1" r="7.2"/>
<circle cx="325.5" cy="1092.9" r="7.2"/>
<circle cx="360.6" cy="1111.7" r="7.2"/>
<circle cx="303.2" cy="1167.5" r="7.2"/>
<circle cx="274.2" cy="1160.7" r="7.2"/>
<circle cx="288.5" cy="1182.0" r="7.2"/>
<circle cx="383.5" cy="1107.9" r="7.2"/>
<circle cx="353.9" cy="1119.9" r="7.2"/>
<circle cx="345.2" cy="1106.7" r="7.2"/>
<circle cx="335.6" cy="1115.4" r="7.2"/>
<circle cx="388.2" cy="1122.1" r="7.2"/>
<circle cx="330.2" cy="1138.0" r="7.2"/>
<circle cx="322.8" cy="1124.7" r="7.2"/>
<circle cx="281.1" cy="1157.9" r="7.2"/>
<circle cx="324.0" cy="1165.2" r="7.2"/>
<circle cx="315.2" cy="1083.3" r="7.2"/>
<circle cx="323.8" cy="1179.1" r="7.2"/>
<circle cx="314.7" cy="1111.1" r="7.2"/>
<circle cx="288.8" cy="1113.7" r="7.2"/>
<circle cx="317.4" cy="1102.5" r="7.2"/>
<circle cx="374.9" cy="1111.5" r="7.2"/>
<circle cx="330.5" cy="1170.2" r="7.2"/>
<circle cx="375.1" cy="1113.4" r="7.2"/>
<circle cx="337.6" cy="1149.1" r="7.2"/>
<circle cx="320.8" cy="1085.3" r="7.2"/>
<circle cx="348.0" cy="1150.7" r="7.2"/>
<circle cx="340.3" cy="1103.3" r="7.2"/>
<circle cx="320.7" cy="1117.6" r="7.2"/>
<circle cx="317.4" cy="1169.8" r="7.2"/>
<circle cx="375.9" cy="1137.1" r="7.2"/>
<circle cx="344.6" cy="1145.7" r="7.2"/>
<circle cx="326.6" cy="1130.0" r="7.2"/>
<circle cx="305.4" cy="1136.2" r="7.2"/>
<circle cx="316.1" cy="1122.1" r="7.2"/>
<circle cx="299.3" cy="1149.6" r="7.2"/>
<circle cx="339.5" cy="1089.4" r="7.2"/>
<circle cx="342.6" cy="1112.4" r="7.2"/>
<circle cx="372.7" cy="1124.1" r="7.2"/>
<circle cx="382.0" cy="1104.9" r="7.2"/>
<circle cx="317.8" cy="1142.6" r="7.2"/>
<circle cx="360.8" cy="1138.4" r="7.2"/>
<circle cx="287.5" cy="1147.5" r="7.2"/>
<circle cx="327.7" cy="1120.1" r="7.2"/>
<circle cx="306.3" cy="1185.1" r="7.2"/>
<circle cx="314.5" cy="1112.3" r="7.2"/>
<circle cx="347.4" cy="1130.1" r="7.2"/>
<circle cx="324.6" cy="1153.9" r="7.2"/>
<circle cx="342.6" cy="1137.7" r="7.2"/>
<circle cx="357.9" cy="1131.5" r="7.2"/>
<circle cx="307.3" cy="1127.4" r="7.2"/>
<circle cx="310.3" cy="1142.2" r="7.2"/>
<circle cx="329.8" cy="1094.9" r="7.2"/>
<circle cx="264.5" cy="1158.8" r="7.2"/>
<circle cx="304.2" cy="1151.6" r="7.2"/>
<circle cx="310.0" cy="1106.0" r="7.2"/>
<circle cx="287.2" cy="1128.6" r="7.2"/>
<circle cx="318.3" cy="1111.9" r="7.2"/>
<circle cx="318.0" cy="1092.6" r="7.2"/>
<circle cx="327.5" cy="1083.1" r="7.2"/>
<circle cx="320.8" cy="1152.6" r="7.2"/>
<circle cx="277.2" cy="1165.9" r="7.2"/>
<circle cx="365.6" cy="1148.3" r="7.2"/>
<circle cx="297.3" cy="1151.1" r="7.2"/>
<circle cx="342.2" cy="1158.2" r="7.2"/>
<circle cx="304.7" cy="1153.8" r="7.2"/>
<circle cx="292.7" cy="1119.1" r="7.2"/>
<circle cx="300.9" cy="1144.2" r="7.2"/>
<circle cx="324.1" cy="1158.7" r="7.2"/>
<circle cx="296.9" cy="1136.5" r="7.2"/>
<circle cx="357.8" cy="1139.0" r="7.2"/>
<circle cx="284.6" cy="1161.4" r="7.2"/>
<circle cx="311.7" cy="1146.6" r="7.2"/>
<circle cx="336.6" cy="1162.6" r="7.2"/>
<circle cx="330.7" cy="1080.6" r="7.2"/>
<circle cx="283.2" cy="1163.6" r="7.2"/>
<circle cx="318.7" cy="1165.1" r="7.2"/>
<circle cx="335.8" cy="1109.3" r="7.2"/>
<circle cx="361.6" cy="1100.8" r="7.2"/>
<circle cx="357.0" cy="1128.0" r="7.2"/>
<circle cx="273.1" cy="1174.0" r="7.2"/>
<circle cx="280.9" cy="1107.8" r="7.2"/>
<circle cx="315.4" cy="1156.5" r="7.2"/>
<circle cx="336.6" cy="1151.5" r="7.2"/>
<circle cx="312.8" cy="1131.1" r="7.2"/>
<circle cx="290.6" cy="1133.1" r="7.2"/>
<circle cx="346.0" cy="1118.8" r="7.2"/>
<circle cx="342.2" cy="1112.3" r="7.2"/>
<circle cx="308.0" cy="1138.1" r="7.2"/>
<circle cx="320.8" cy="1149.8" r="7.2"/>
<circle cx="332.7" cy="1177.8" r="7.2"/>
<circle cx="320.0" cy="1127.7" r="7.2"/>
<circle cx="293.7" cy="1141.5" r="7.2"/>
<circle cx="348.9" cy="1106.0" r="7.2"/>
<circle cx="325.4" cy="1152.0" r="7.2"/>
<circle cx="322.9" cy="1119.0" r="7.2"/>
<circle cx="358.1" cy="1126.3" r="7.2"/>
<circle cx="339.7" cy="1160.5" r="7.2"/>
<circle cx="363.7" cy="1112.8" r="7.2"/>
<circle cx="310.2" cy="1144.2" r="7.2"/>
<circle cx="322.8" cy="1081.5" r="7.2"/>
<circle cx="367.8" cy="1121.6" r="7.2"/>
<circle cx="350.6" cy="1093.8" r="7.2"/>
<circle cx="368.2" cy="1105.0" r="7.2"/>
<circle cx="323.6" cy="1094.8" r="7.2"/>
<circle cx="321.7" cy="1127.2" r="7.2"/>
<circle cx="321.1" cy="1145.5" r="7.2"/>
<circle cx="328.9" cy="1158.0" r="7.2"/>
<circle cx="312.0" cy="1108.9" r="7.2"/>
<circle cx="326.4" cy="1149.2" r="7.2"/>
<circle cx="366.8" cy="1143.5" r="7.2"/>
<circle cx="270.5" cy="1157.3" r="7.2"/>
<circle cx="373.7" cy="1121.2" r="7.2"/>
<circle cx="310.5" cy="1144.8" r="7.2"/>
<circle cx="310.9" cy="1153.7" r="7.2"/>
<circle cx="326.6" cy="1170.0" r="7.2"/>
<circle cx="343.0" cy="1108.0" r="7.2"/>
<circle cx="346.3" cy="1152.3" r="7.2"/>
<circle cx="308.8" cy="1125.3" r="7.2"/>
<circle cx="270.4" cy="1141.1" r="7.2"/>
<circle cx="351.3" cy="1123.1" r="7.2"/>
<circle cx="342.1" cy="1098.0" r="7.2"/>
<circle cx="284.1" cy="1167.5" r="7.2"/>
<circle cx="342.7" cy="1127.0" r="7.2"/>
<circle cx="368.0" cy="1095.2" r="7.2"/>
<circle cx="313.6" cy="1163.5" r="7.2"/>
<circle cx="385.8" cy="1116.5" r="7.2"/>
<circle cx="380.7" cy="1101.3" r="7.2"/>
<circle cx="337.6" cy="1124.5" r="7.2"/>
<circle cx="276.2" cy="1152.6" r="7.2"/>
<circle cx="356.8" cy="1120.0" r="7.2"/>
<circle cx="324.7" cy="1170.5" r="7.2"/>
<circle cx="287.0" cy="1102.0" r="7.2"/>
<circle cx="306.1" cy="1105.1" r="7.2"/>
<circle cx="370.1" cy="1128.9" r="7.2"/>
<circle cx="299.3" cy="1122.7" r="7.2"/>
<circle cx="302.6" cy="1146.8" r="7.2"/>
<circle cx="347.4" cy="1132.6" r="7.2"/>
<circle cx="297.9" cy="1108.3" r="7.2"/>
<circle cx="346.1" cy="1125.4" r="7.2"/>
<circle cx="351.8" cy="1118.8" r="7.2"/>
<circle cx="318.7" cy="1140.5" r="7.2"/>
<circle cx="305.0" cy="1101.2" r="7.2"/>
<circle cx="337.3" cy="1090.1" r="7.2"/>
<circle cx="339.5" cy="1089.5" r="7.2"/>
<circle cx="323.8" cy="1129.2" r="7.2"/>
<circle cx="281.7" cy="1126.5" r="7.2"/>
<circle cx="291.0" cy="1125.6" r="7.2"/>
<circle cx="340.5" cy="1149.4" r="7.2"/>
<circle cx="380.1" cy="1097.8" r="7.2"/>
<circle cx="324.3" cy="1134.7" r="7.2"/>
<circle cx="320.6" cy="1112.3" r="7.2"/>
<circle cx="347.1" cy="1154.0" r="7.2"/>
<circle cx="311.4" cy="1142.4" r="7.2"/>
<circle cx="306.0" cy="1116.2" r="7.2"/>
<circle cx="329.5" cy="1145.6" r="7.2"/>
<circle cx="345.7" cy="1083.6" r="7.2"/>
<circle cx="330.9" cy="1179.3" r="7.2"/>
<circle cx="326.5" cy="1099.8" r="7.2"/>
<circle cx="280.2" cy="1176.3" r="7.2"/>
<circle cx="326.5" cy="1146.8" r="7.2"/>
<circle cx="356.6" cy="1122.7" r="7.2"/>
<circle cx="317.1" cy="1108.9" r="7.2"/>
<circle cx="324.8" cy="1127.8" r="7.2"/>
<circle cx="339.9" cy="1125.1" r="7.2"/>
<circle cx="332.1" cy="1152.1" r="7.2"/>
<circle cx="298.7" cy="1131.8" r="7.2"/>
<circle cx="275.6" cy="1172.2" r="7.2"/>
<circle cx="328.2" cy="1145.0" r="7.2"/>
<circle cx="376.4" cy="1148.2" r="7.2"/>
<circle cx="325.1" cy="1153.9" r="7.2"/>
<circle cx="281.2" cy="1156.0" r="7.2"/>
<circle cx="331.4" cy="1086.8" r="7.2"/>
<circle cx="369.8" cy="1101.4" r="7.2"/>
<circle cx="348.9" cy="1114.7" r="7.2"/>
<circle cx="358.8" cy="1159.2" r="7.2"/>
<circle cx="300.4" cy="1097.5" r="7.2"/>
<circle cx="322.8" cy="1156.2" r="7.2"/>
<circle cx="315.1" cy="1118.5" r="7.2"/>
<circle cx="305.7" cy="1100.1" r="7.2"/>
<circle cx="336.4" cy="1109.5" r="7.2"/>
<circle cx="291.3" cy="1131.9" r="7.2"/>
<circle cx="280.0" cy="1144.2" r="7.2"/>
<circle cx="305.2" cy="1127.6" r="7.2"/>
<circle cx="304.1" cy="1162.9" r="7.2"/>
<circle cx="323.5" cy="1147.2" r="7.2"/>
<circle cx="342.4" cy="1106.0" r="7.2"/>
<circle cx="345.2" cy="1136.6" r="7.2"/>
<circle cx="337.0" cy="1118.5" r="7.2"/>
<circle cx="313.3" cy="1157.0" r="7.2"/>
<circle cx="344.1" cy="1117.5" r="7.2"/>
<circle cx="352.1" cy="1137.2" r="7.2"/>
<circle cx="307.8" cy="1110.3" r="7.2"/>
<circle cx="323.5" cy="1113.2" r="7.2"/>
<circle cx="306.5" cy="1156.0" r="7.2"/>
<circle cx="317.1" cy="1143.1" r="7.2"/>
<circle cx="327.2" cy="1122.6" r="7.2"/>
<circle cx="283.7" cy="1117.9" r="7.2"/>
<circle cx="350.2" cy="1155.0" r="7.2"/>
<circle cx="330.1" cy="1108.4" r="7.2"/>
<circle cx="330.1" cy="1124.7" r="7.2"/>
<circle cx="344.5" cy="1130.6" r="7.2"/>
<circle cx="307.1" cy="1142.5" r="7.2"/>
<circle cx="289.3" cy="1164.4" r="7.2"/>
<circle cx="364.8" cy="1089.9" r="7.2"/>
<circle cx="340.5" cy="1101.5" r="7.2"/>
<circle cx="361.3" cy="1147.4" r="7.2"/>
<circle cx="319.6" cy="1161.0" r="7.2"/>
<circle cx="313.2" cy="1118.2" r="7.2"/>
<circle cx="308.8" cy="1133.0" r="7.2"/>
<circle cx="316.7" cy="1139.0" r="7.2"/>
<circle cx="307.3" cy="1158.0" r="7.2"/>
<circle cx="359.7" cy="1109.8" r="7.2"/>
<circle cx="281.3" cy="1163.9" r="7.2"/>
<circle cx="363.4" cy="1117.8" r="7.2"/>
<circle cx="285.8" cy="1150.3" r="7.2"/>
<circle cx="342.3" cy="1119.4" r="7.2"/>
<circle cx="299.6" cy="1152.9" r="7.2"/>
<circle cx="285.4" cy="1151.2" r="7.2"/>
<circle cx="369.0" cy="1125.6" r="7.2"/>
<circle cx="299.0" cy="1091.1" r="7.2"/>
<circle cx="378.2" cy="1111.5" r="7.2"/>
<circle cx="293.6" cy="1105.6" r="7.2"/>
<circle cx="292.8" cy="1132.0" r="7.2"/>
<circle cx="303.1" cy="1117.1" r="7.2"/>
<circle cx="336.8" cy="1168.8" r="7.2"/>
<circle cx="369.4" cy="1107.4" r="7.2"/>
<circle cx="335.2" cy="1133.9" r="7.2"/>
<circle cx="344.0" cy="1134.4" r="7.2"/>
<circle cx="296.8" cy="1105.8" r="7.2"/>
<circle cx="332.6" cy="1098.3" r="7.2"/>
<circle cx="370.6" cy="1121.4" r="7.2"/>
<circle cx="294.2" cy="1132.0" r="7.2"/>
<circle cx="310.8" cy="1132.8" r="7.2"/>
<circle cx="357.3" cy="1084.6" r="7.2"/>
<circle cx="267.2" cy="1157.2" r="7.2"/>
<circle cx="321.3" cy="1138.0" r="7.2"/>
<circle cx="341.2" cy="1123.3" r="7.2"/>
<circle cx="352.6" cy="1100.9" r="7.2"/>
<circle cx="329.1" cy="1108.9" r="7.2"/>
<circle cx="290.8" cy="1158.4" r="7.2"/>
<circle cx="291.1" cy="1149.5" r="7.2"/>
<circle cx="361.2" cy="1104.7" r="7.2"/>
<circle cx="321.1" cy="1095.1" r="7.2"/>
<circle cx="355.6" cy="1142.2" r="7.2"/>
<circle cx="356.9" cy="1140.6" r="7.2"/>
<circle cx="316.3" cy="1155.1" r="7.2"/>
<circle cx="329.5" cy="1166.6" r="7.2"/>
<circle cx="303.5" cy="1123.6" r="7.2"/>
<circle cx="348.2" cy="1161.1" r="7.2"/>
<circle cx="331.6" cy="1111.4" r="7.2"/>
<circle cx="323.2" cy="1119.5" r="7.2"/>
<circle cx="367.5" cy="1129.4" r="7.2"/>
<circle cx="309.2" cy="1168.6" r="7.2"/>
<circle cx="379.9" cy="1133.7" r="7.2"/>
<circle cx="326.2" cy="1161.6" r="7.2"/>
<circle cx="315.1" cy="1156.0" r="7.2"/>
<circle cx="304.2" cy="1111.7" r="7.2"/>
<circle cx="345.1" cy="1136.3" r="7.2"/>
<circle cx="387.9" cy="1108.1" r="7.2"/>
<circle cx="327.8" cy="1100.8" r="7.2"/>
<circle cx="341.8" cy="1096.1" r="7.2"/>
<circle cx="363.1" cy="1161.0" r="7.2"/>
<circle cx="317.9" cy="1179.5" r="7.2"/>
<circle cx="334.3" cy="1160.6" r="7.2"/>
<circle cx="319.8" cy="1160.0" r="7.2"/>
<circle cx="296.8" cy="1157.0" r="7.2"/>
<circle cx="312.3" cy="1132.4" r="7.2"/>
<circle cx="347.2" cy="1131.3" r="7.2"/>
<circle cx="324.6" cy="1152.4" r="7.2"/>
<circle cx="352.7" cy="1087.5" r="7.2"/>
<circle cx="344.9" cy="1145.5" r="7.2"/>
<circle cx="302.9" cy="1148.9" r="7.2"/>
<circle cx="284.6" cy="1182.5" r="7.2"/>
<circle cx="319.4" cy="1131.9" r="7.2"/>
<circle cx="365.3" cy="1117.9" r="7.2"/>
<circle cx="346.2" cy="1098.4" r="7.2"/>
<circle cx="308.8" cy="1099.0" r="7.2"/>
<circle cx="320.3" cy="1161.8" r="7.2"/>
<circle cx="334.2" cy="1154.1" r="7.2"/>
<circle cx="294.2" cy="1116.8" r="7.2"/>
<circle cx="312.1" cy="1151.5" r="7.2"/>
<circle cx="338.4" cy="1128.5" r="7.2"/>
<circle cx="346.9" cy="1122.6" r="7.2"/>
<circle cx="326.3" cy="1167.7" r="7.2"/>
<circle cx="308.2" cy="1142.0" r="7.2"/>
<circle cx="378.6" cy="1121.0" r="7.2"/>
<circle cx="349.6" cy="1109.5" r="7.2"/>
<circle cx="290.7" cy="1113.0" r="7.2"/>
<circle cx="378.8" cy="1127.7" r="7.2"/>
<circle cx="318.6" cy="1099.4" r="7.2"/>
<circle cx="338.7" cy="1132.0" r="7.2"/>
<circle cx="304.8" cy="1097.4" r="7.2"/>
<circle cx="291.7" cy="1147.2" r="7.2"/>
<circle cx="337.0" cy="1131.3" r="7.2"/>
<circle cx="322.1" cy="1085.2" r="7.2"/>
<circle cx="328.6" cy="1103.5" r="7.2"/>
<circle cx="328.3" cy="1144.3" r="7.2"/>
<circle cx="305.4" cy="1110.0" r="7.2"/>
<circle cx="358.8" cy="1133.1" r="7.2"/>
<circle cx="325.4" cy="1149.5" r="7.2"/>
<circle cx="362.9" cy="1104.0" r="7.2"/>
<circle cx="306.4" cy="1125.5" r="7.2"/>
<circle cx="353.8" cy="1092.9" r="7.2"/>
<circle cx="323.4" cy="1107.8" r="7.2"/>
<circle cx="335.6" cy="1087.4" r="7.2"/>
<circle cx="339.0" cy="1115.3" r="7.2"/>
<circle cx="319.8" cy="1148.2" r="7.2"/>
<circle cx="359.1" cy="1138.6" r="7.2"/>
<circle cx="317.6" cy="1172.7" r="7.2"/>
<circle cx="333.0" cy="1165.6" r="7.2"/>
<circle cx="308.0" cy="1113.5" r="7.2"/>
<circle cx="347.3" cy="1150.8" r="7.2"/>
<circle cx="311.8" cy="1100.0" r="7.2"/>
<circle cx="319.8" cy="1174.7" r="7.2"/>
<circle cx="267.5" cy="1134.4" r="7.2"/>
<circle cx="265.7" cy="1151.3" r="7.2"/>
<circle cx="355.0" cy="1090.7" r="7.2"/>
<circle cx="313.9" cy="1171.5" r="7.2"/>
<circle cx="324.2" cy="1099.1" r="7.2"/>
<circle cx="351.7" cy="1105.1" r="7.2"/>
<circle cx="360.6" cy="1146.6" r="7.2"/>
<circle cx="305.9" cy="1123.3" r="7.2"/>
<circle cx="351.9" cy="1129.4" r="7.2"/>
<circle cx="335.6" cy="1084.9" r="7.2"/>
<circle cx="355.7" cy="1100.5" r="7.2"/>
<circle cx="315.1" cy="1099.0" r="7.2"/>
<circle cx="318.6" cy="1105.0" r="7.2"/>
<circle cx="294.9" cy="1180.8" r="7.2"/>
<circle cx="318.3" cy="1119.7" r="7.2"/>
<circle cx="310.7" cy="1179.0" r="7.2"/>
<circle cx="308.1" cy="1154.1" r="7.2"/>
<circle cx="335.5" cy="1136.2" r="7.2"/>
<circle cx="298.9" cy="1157.4" r="7.2"/>
<circle cx="378.5" cy="1116.8" r="7.2"/>
<circle cx="297.6" cy="1104.8" r="7.2"/>
<circle cx="333.1" cy="1123.0" r="7.2"/>
<circle cx="323.7" cy="1133.2" r="7.2"/>
<circle cx="279.8" cy="1165.9" r="7.2"/>
<circle cx="334.5" cy="1128.0" r="7.2"/>
<circle cx="334.4" cy="1155.2" r="7.2"/>
<circle cx="328.7" cy="1108.4" r="7.2"/>
<circle cx="364.3" cy="1110.2" r="7.2"/>
<circle cx="303.8" cy="1095.7" r="7.2"/>
<circle cx="327.3" cy="1103.4" r="7.2"/>
<circle cx="310.4" cy="1148.7" r="7.2"/>
<circle cx="328.1" cy="1159.3" r="7.2"/>
<circle cx="336.8" cy="1118.4" r="7.2"/>
<circle cx="316.4" cy="1121.0" r="7.2"/>
<circle cx="347.7" cy="1127.1" r="7.2"/>
<circle cx="313.9" cy="1158.5" r="7.2"/>
<circle cx="330.1" cy="1118.5" r="7.2"/>
<circle cx="278.6" cy="1156.8" r="7.2"/>
<circle cx="334.6" cy="1131.4" r="7.2"/>
<circle cx="313.1" cy="1113.1" r="7.2"/>
<circle cx="319.7" cy="1140.2" r="7.2"/>
<circle cx="322.9" cy="1129.2" r="7.2"/>
<circle cx="312.0" cy="1145.2" r="7.2"/>
<circle cx="334.5" cy="1109.5" r="7.2"/>
<circle cx="351.3" cy="1147.0" r="7.2"/>
<circle cx="353.0" cy="1121.5" r="7.2"/>
<circle cx="320.8" cy="1102.1" r="7.2"/>
<circle cx="314.5" cy="1126.1" r="7.2"/>
<circle cx="354.4" cy="1124.7" r="7.2"/>
<circle cx="296.1" cy="1101.5" r="7.2"/>
<circle cx="303.7" cy="1141.1" r="7.2"/>
<circle cx="328.8" cy="1126.2" r="7.2"/>
<circle cx="305.1" cy="1132.1" r="7.2"/>
<circle cx="358.9" cy="1093.6" r="7.2"/>
<circle cx="328.1" cy="1175.7" r="7.2"/>
<circle cx="344.7" cy="1114.9" r="7.2"/>
<circle cx="348.2" cy="1105.9" r="7.2"/>
<circle cx="327.2" cy="1174.2" r="7.2"/>
<circle cx="309.5" cy="1143.7" r="7.2"/>
<circle cx="375.2" cy="1105.7" r="7.2"/>
<circle cx="341.5" cy="1126.5" r="7.2"/>
<circle cx="265.4" cy="1157.9" r="7.2"/>
<circle cx="321.1" cy="1158.8" r="7.2"/>
<circle cx="315.2" cy="1147.4" r="7.2"/>
<circle cx="333.5" cy="1158.1" r="7.2"/>
<circle cx="281.0" cy="1112.6" r="7.2"/>
<circle cx="326.4" cy="1114.8" r="7.2"/>
<circle cx="303.8" cy="1122.6" r="7.2"/>
<circle cx="297.3" cy="1131.2" r="7.2"/>
<circle cx="311.2" cy="1174.0" r="7.2"/>
<circle cx="337.3" cy="1107.0" r="7.2"/>
<circle cx="308.3" cy="1169.6" r="7.2"/>
<circle cx="341.5" cy="1136.2" r="7.2"/>
<circle cx="350.1" cy="1169.0" r="7.2"/>
<circle cx="288.0" cy="1122.1" r="7.2"/>
<circle cx="271.3" cy="1160.3" r="7.2"/>
<circle cx="338.1" cy="1163.0" r="7.2"/>
<circle cx="369.8" cy="1148.0" r="7.2"/>
<circle cx="283.5" cy="1116.5" r="7.2"/>
<circle cx="394.6" cy="1081.1" r="7.2"/>
<circle cx="259.9" cy="1131.1" r="7.2"/>
<circle cx="358.1" cy="1159.0" r="7.2"/>
<circle cx="398.9" cy="1093.9" r="7.2"/>
<circle cx="355.4" cy="1073.7" r="7.2"/>
<circle cx="410.6" cy="1135.4" r="7.2"/>
<circle cx="339.7" cy="1072.1" r="7.2"/>
<circle cx="403.9" cy="1126.2" r="7.2"/>
<circle cx="297.5" cy="1075.5" r="7.2"/>
<circle cx="348.9" cy="1164.3" r="7.2"/>
<circle cx="338.3" cy="1192.0" r="7.2"/>
<circle cx="323.8" cy="1057.7" r="7.2"/>
<circle cx="339.2" cy="1171.5" r="7.2"/>
<circle cx="353.3" cy="1074.9" r="7.2"/>
<circle cx="402.6" cy="1114.2" r="7.2"/>
<circle cx="306.5" cy="1167.7" r="7.2"/>
<circle cx="350.0" cy="1083.4" r="7.2"/>
<circle cx="366.1" cy="1068.7" r="7.2"/>
<circle cx="356.3" cy="1067.2" r="7.2"/>
<circle cx="331.1" cy="1163.9" r="7.2"/>
<circle cx="275.1" cy="1119.2" r="7.2"/>
<circle cx="251.2" cy="1167.0" r="7.2"/>
<circle cx="407.5" cy="1090.9" r="7.2"/>
<circle cx="308.0" cy="1178.7" r="7.2"/>
<circle cx="308.3" cy="1081.3" r="7.2"/>
<circle cx="410.0" cy="1106.6" r="7.2"/>
<circle cx="325.8" cy="1062.0" r="7.2"/>
<circle cx="279.5" cy="1158.1" r="7.2"/>
<circle cx="316.5" cy="1072.3" r="7.2"/>
<circle cx="269.2" cy="1181.0" r="7.2"/>
<circle cx="355.8" cy="1079.6" r="7.2"/>
<circle cx="398.2" cy="1136.6" r="7.2"/>
<circle cx="293.0" cy="1118.5" r="7.2"/>
<circle cx="322.9" cy="1079.5" r="7.2"/>
<circle cx="294.2" cy="1102.5" r="7.2"/>
<circle cx="360.7" cy="1080.4" r="7.2"/>
<circle cx="390.6" cy="1141.0" r="7.2"/>
<circle cx="380.4" cy="1099.1" r="7.2"/>
<circle cx="245.4" cy="1141.8" r="7.2"/>
<circle cx="335.1" cy="1184.2" r="7.2"/>
<circle cx="370.9" cy="1161.4" r="7.2"/>
<circle cx="272.1" cy="1145.3" r="7.2"/>
<circle cx="393.9" cy="1073.1" r="7.2"/>
<circle cx="304.4" cy="1190.0" r="7.2"/>
<circle cx="276.6" cy="1100.0" r="7.2"/>
<circle cx="319.6" cy="1084.7" r="7.2"/>
<circle cx="394.9" cy="1154.9" r="7.2"/>
<circle cx="269.0" cy="1167.2" r="7.2"/>
<circle cx="342.0" cy="1079.3" r="7.2"/>
<circle cx="280.5" cy="1118.1" r="7.2"/>
<circle cx="392.1" cy="1067.5" r="7.2"/>
<circle cx="265.0" cy="1151.2" r="7.2"/>
<circle cx="308.0" cy="1099.2" r="7.2"/>
<circle cx="283.5" cy="1176.6" r="7.2"/>
<circle cx="392.1" cy="1095.4" r="7.2"/>
<circle cx="339.8" cy="1175.7" r="7.2"/>
<circle cx="272.8" cy="1102.6" r="7.2"/>
<circle cx="385.0" cy="1068.1" r="7.2"/>
<circle cx="400.3" cy="1065.9" r="7.2"/>
<circle cx="290.6" cy="1125.7" r="7.2"/>
<circle cx="325.0" cy="1186.7" r="7.2"/>
<circle cx="272.4" cy="1141.8" r="7.2"/>
<circle cx="392.4" cy="1101.8" r="7.2"/>
<circle cx="388.4" cy="1072.1" r="7.2"/>
<circle cx="370.9" cy="1136.0" r="7.2"/>
<circle cx="372.0" cy="1133.8" r="7.2"/>
<circle cx="289.8" cy="1119.2" r="7.2"/>
<circle cx="411.6" cy="1072.4" r="7.2"/>
<circle cx="383.3" cy="1110.1" r="7.2"/>
<circle cx="385.7" cy="1146.0" r="7.2"/>
<circle cx="309.8" cy="1077.5" r="7.2"/>
<circle cx="252.6" cy="1144.5" r="7.2"/>
<circle cx="277.1" cy="1128.3" r="7.2"/>
<circle cx="378.4" cy="1122.7" r="7.2"/>
<circle cx="327.4" cy="1166.4" r="7.2"/>
<circle cx="275.7" cy="1120.3" r="7.2"/>
<circle cx="426.1" cy="1095.5" r="7.2"/>
<circle cx="297.4" cy="1086.0" r="7.2"/>
<circle cx="282.5" cy="1139.2" r="7.2"/>
<circle cx="396.5" cy="1108.5" r="7.2"/>
<circle cx="290.1" cy="1119.5" r="7.2"/>
<circle cx="368.3" cy="1167.0" r="7.2"/>
<circle cx="299.7" cy="1188.4" r="7.2"/>
<circle cx="322.8" cy="1081.3" r="7.2"/>
<circle cx="367.4" cy="1151.7" r="7.2"/>
<circle cx="359.5" cy="1078.8" r="7.2"/>
<circle cx="317.5" cy="1061.6" r="7.2"/>
<circle cx="313.8" cy="1172.5" r="7.2"/>
<circle cx="269.2" cy="1145.6" r="7.2"/>
<circle cx="366.4" cy="1158.2" r="7.2"/>
<circle cx="289.7" cy="1118.9" r="7.2"/>
<circle cx="303.8" cy="1162.7" r="7.2"/>
<circle cx="359.3" cy="1078.7" r="7.2"/>
<circle cx="377.6" cy="1094.0" r="7.2"/>
<circle cx="253.3" cy="1114.1" r="7.2"/>
<circle cx="333.9" cy="1171.0" r="7.2"/>
<circle cx="386.5" cy="1080.5" r="7.2"/>
<circle cx="428.3" cy="1097.5" r="7.2"/>
<circle cx="371.1" cy="1086.2" r="7.2"/>
<circle cx="391.0" cy="1058.6" r="7.2"/>
<circle cx="421.0" cy="1101.4" r="7.2"/>
<circle cx="367.4" cy="1056.5" r="7.2"/>
<circle cx="359.7" cy="1061.9" r="7.2"/>
<circle cx="408.5" cy="1099.5" r="7.2"/>
<circle cx="310.0" cy="1167.3" r="7.2"/>
<circle cx="307.3" cy="1101.0" r="7.2"/>
<circle cx="301.1" cy="1168.0" r="7.2"/>
<circle cx="299.3" cy="1177.5" r="7.2"/>
<circle cx="269.1" cy="1106.5" r="7.2"/>
<circle cx="361.5" cy="1159.8" r="7.2"/>
<circle cx="397.7" cy="1089.4" r="7.2"/>
<circle cx="255.2" cy="1129.8" r="7.2"/>
<circle cx="259.2" cy="1171.0" r="7.2"/>
<circle cx="262.0" cy="1104.2" r="7.2"/>
<circle cx="395.3" cy="1080.5" r="7.2"/>
<circle cx="394.5" cy="1108.7" r="7.2"/>
<circle cx="352.7" cy="1175.7" r="7.2"/>
<circle cx="324.1" cy="1077.2" r="7.2"/>
<circle cx="343.8" cy="1079.4" r="7.2"/>
<circle cx="381.8" cy="1168.8" r="7.2"/>
<circle cx="375.3" cy="1089.9" r="7.2"/>
<circle cx="388.1" cy="1144.4" r="7.2"/>
<circle cx="387.5" cy="1150.2" r="7.2"/>
<circle cx="338.1" cy="1165.9" r="7.2"/>
<circle cx="397.8" cy="1114.3" r="7.2"/>
<circle cx="335.7" cy="1077.3" r="7.2"/>
<circle cx="383.6" cy="1161.7" r="7.2"/>
<circle cx="394.2" cy="1068.1" r="7.2"/>
<circle cx="294.8" cy="1087.3" r="7.2"/>
<circle cx="356.1" cy="1149.7" r="7.2"/>
<circle cx="288.0" cy="1116.1" r="7.2"/>
<circle cx="261.0" cy="1113.1" r="7.2"/>
<circle cx="350.2" cy="1059.3" r="7.2"/>
<circle cx="360.3" cy="1170.0" r="7.2"/>
<circle cx="375.0" cy="1133.3" r="7.2"/>
<circle cx="409.8" cy="1101.1" r="7.2"/>
<circle cx="291.0" cy="1154.9" r="7.2"/>
<circle cx="323.0" cy="1167.6" r="7.2"/>
<circle cx="369.1" cy="1071.9" r="7.2"/>
<circle cx="275.4" cy="1149.4" r="7.2"/>
<circle cx="292.0" cy="1076.6" r="7.2"/>
<circle cx="274.1" cy="1104.2" r="7.2"/>
<circle cx="336.5" cy="1063.6" r="7.2"/>
<circle cx="279.5" cy="1147.1" r="7.2"/>
<circle cx="394.7" cy="1069.7" r="7.2"/>
<circle cx="342.5" cy="1164.5" r="7.2"/>
<circle cx="349.4" cy="1171.4" r="7.2"/>
<circle cx="369.0" cy="1075.8" r="7.2"/>
<circle cx="404.5" cy="1119.9" r="7.2"/>
<circle cx="411.6" cy="1131.0" r="7.2"/>
<circle cx="255.6" cy="1178.3" r="7.2"/>
<circle cx="338.6" cy="1163.0" r="7.2"/>
<circle cx="324.1" cy="1080.1" r="7.2"/>
<circle cx="326.2" cy="1180.1" r="7.2"/>
<circle cx="379.3" cy="1156.4" r="7.2"/>
<circle cx="257.0" cy="1157.3" r="7.2"/>
<circle cx="378.6" cy="1162.5" r="7.2"/>
<circle cx="372.2" cy="1065.2" r="7.2"/>
<circle cx="274.1" cy="1107.2" r="7.2"/>
<circle cx="255.1" cy="1164.7" r="7.2"/>
<circle cx="387.8" cy="1130.7" r="7.2"/>
<circle cx="402.7" cy="1088.6" r="7.2"/>
<circle cx="355.5" cy="1066.9" r="7.2"/>
<circle cx="407.7" cy="1059.5" r="7.2"/>
<circle cx="372.7" cy="1143.6" r="7.2"/>
<circle cx="284.1" cy="1125.3" r="7.2"/>
<circle cx="276.8" cy="1145.7" r="7.2"/>
<circle cx="285.8" cy="1148.6" r="7.2"/>
<circle cx="386.6" cy="1118.2" r="7.2"/>
<circle cx="321.6" cy="1169.4" r="7.2"/>
<circle cx="292.4" cy="1112.9" r="7.2"/>
<circle cx="326.5" cy="1171.8" r="7.2"/>
<circle cx="388.6" cy="934.3" r="7.2"/>
<circle cx="344.7" cy="957.6" r="7.2"/>
<circle cx="363.2" cy="978.3" r="7.2"/>
<circle cx="368.4" cy="993.3" r="7.2"/>
<circle cx="422.7" cy="998.9" r="7.2"/>
<circle cx="572.6" cy="967.9" r="7.2"/>
<circle cx="604.3" cy="1126.0" r="7.2"/>
<circle cx="482.5" cy="1067.4" r="7.2"/>
<circle cx="491.6" cy="1077.8" r="7.2"/>
<circle cx="518.3" cy="1067.4" r="7.2"/>
<circle cx="528.2" cy="1066.0" r="7.2"/>
<circle cx="538.6" cy="1080.4" r="7.2"/>
<circle cx="492.5" cy="1138.5" r="7.2"/>
<circle cx="506.2" cy="1147.6" r="7.2"/>
<circle cx="306.9" cy="1009.8" r="7.2"/>
<circle cx="372.6" cy="1018.6" r="7.2"/>
<circle cx="376.0" cy="1026.2" r="7.2"/>
<circle cx="379.4" cy="1034.7" r="7.2"/>
<circle cx="391.2" cy="1026.2" r="7.2"/>
<circle cx="400.5" cy="1027.9" r="7.2"/>
<circle cx="394.6" cy="1041.5" r="7.2"/>
<circle cx="400.5" cy="1038.1" r="7.2"/>
<circle cx="413.2" cy="1028.8" r="7.2"/>
<circle cx="417.4" cy="1027.1" r="7.2"/>
<circle cx="343.8" cy="1029.6" r="7.2"/>
<circle cx="353.1" cy="1034.7" r="7.2"/>
<circle cx="317.1" cy="1036.4" r="7.2"/>
<circle cx="316.8" cy="1046.5" r="7.2"/>
<circle cx="330.3" cy="1047.4" r="7.2"/>
<circle cx="454.7" cy="1021.2" r="7.2"/>
<circle cx="458.0" cy="1033.0" r="7.2"/>
<circle cx="278.7" cy="1051.6" r="7.2"/>
<circle cx="291.4" cy="1053.3" r="7.2"/>
<circle cx="264.0" cy="1070.2" r="7.2"/>
<circle cx="268.5" cy="1066.8" r="7.2"/>
<circle cx="281.2" cy="1070.2" r="7.2"/>
<circle cx="279.5" cy="1078.7" r="7.2"/>
<circle cx="366.7" cy="1048.2" r="7.2"/>
<circle cx="362.4" cy="1055.8" r="7.2"/>
<circle cx="385.3" cy="1057.5" r="7.2"/>
<circle cx="415.7" cy="1057.5" r="7.2"/>
<circle cx="426.7" cy="1053.3" r="7.2"/>
<circle cx="416.6" cy="1068.5" r="7.2"/>
<circle cx="435.2" cy="1065.1" r="7.2"/>
<circle cx="457.2" cy="1071.9" r="7.2"/>
<circle cx="473.3" cy="1064.3" r="7.2"/>
<circle cx="263.5" cy="1091.4" r="7.2"/>
<circle cx="261.8" cy="1098.1" r="7.2"/>
<circle cx="428.4" cy="1089.7" r="7.2"/>
<circle cx="436.9" cy="1093.1" r="7.2"/>
<circle cx="428.4" cy="1101.5" r="7.2"/>
<circle cx="421.7" cy="1108.3" r="7.2"/>
<circle cx="426.7" cy="1115.1" r="7.2"/>
<circle cx="433.5" cy="1115.1" r="7.2"/>
<circle cx="446.2" cy="1115.1" r="7.2"/>
<circle cx="464.3" cy="1121.0" r="7.2"/>
<circle cx="408.1" cy="1094.8" r="7.2"/>
<circle cx="401.4" cy="1108.3" r="7.2"/>
<circle cx="413.2" cy="1121.8" r="7.2"/>
<circle cx="403.0" cy="1133.7" r="7.2"/>
<circle cx="449.6" cy="1136.2" r="7.2"/>
<circle cx="448.7" cy="1137.9" r="7.2"/>
<circle cx="435.2" cy="1144.7" r="7.2"/>
<circle cx="423.4" cy="1143.8" r="7.2"/>
<circle cx="418.3" cy="1155.7" r="7.2"/>
<circle cx="409.0" cy="1158.2" r="7.2"/>
<circle cx="413.2" cy="1163.3" r="7.2"/>
<circle cx="238.9" cy="1141.3" r="7.2"/>
<circle cx="238.1" cy="1143.8" r="7.2"/>
<circle cx="238.9" cy="1159.1" r="7.2"/>
<circle cx="240.6" cy="1176.8" r="7.2"/>
<circle cx="246.5" cy="1177.7" r="7.2"/>
<circle cx="250.8" cy="1167.5" r="7.2"/>
<circle cx="221.2" cy="1204.7" r="7.2"/>
<circle cx="238.1" cy="1202.2" r="7.2"/>
<circle cx="243.1" cy="1199.7" r="7.2"/>
<circle cx="249.9" cy="1207.3" r="7.2"/>
<circle cx="245.7" cy="1194.6" r="7.2"/>
<circle cx="260.1" cy="1196.3" r="7.2"/>
<circle cx="318.4" cy="1198.8" r="7.2"/>
<circle cx="342.1" cy="1188.7" r="7.2"/>
<circle cx="362.4" cy="1190.4" r="7.2"/>
<circle cx="361.6" cy="1179.4" r="7.2"/>
<circle cx="318.4" cy="1183.6" r="7.2"/>
<circle cx="329.4" cy="1181.0" r="7.2"/>
<circle cx="291.4" cy="1189.5" r="7.2"/>
<circle cx="281.2" cy="1184.4" r="7.2"/>
</g>
<rect x="113.70" y="852.00" width="3.60" height="369.50" fill="#000"/>
<rect x="105.50" y="1208.90" width="546.30" height="3.80" fill="#000"/>
<rect x="105.50" y="851.80" width="9.50" height="3.60" fill="#000"/>
<text x="96.3" y="863.1" font-size="27.4" font-weight="700" text-anchor="end">250</text>
<rect x="105.50" y="923.50" width="9.50" height="3.60" fill="#000"/>
<text x="96.3" y="934.8" font-size="27.4" font-weight="700" text-anchor="end">200</text>
<rect x="105.50" y="994.90" width="9.50" height="3.60" fill="#000"/>
<text x="96.3" y="1006.2" font-size="27.4" font-weight="700" text-anchor="end">150</text>
<rect x="105.50" y="1066.60" width="9.50" height="3.60" fill="#000"/>
<text x="96.3" y="1077.9" font-size="27.4" font-weight="700" text-anchor="end">100</text>
<rect x="105.50" y="1137.80" width="9.50" height="3.60" fill="#000"/>
<text x="96.3" y="1149.1" font-size="27.4" font-weight="700" text-anchor="end">50</text>
<rect x="105.50" y="1209.00" width="9.50" height="3.60" fill="#000"/>
<text x="96.3" y="1220.3" font-size="27.4" font-weight="700" text-anchor="end">0</text>
<rect x="113.70" y="1210.00" width="3.60" height="11.50" fill="#000"/>
<text x="115.5" y="1252.0" font-size="27.4" font-weight="700" text-anchor="middle">0</text>
<rect x="291.80" y="1210.00" width="3.60" height="11.50" fill="#000"/>
<text x="293.6" y="1252.0" font-size="27.4" font-weight="700" text-anchor="middle">20</text>
<rect x="470.40" y="1210.00" width="3.60" height="11.50" fill="#000"/>
<text x="472.2" y="1252.0" font-size="27.4" font-weight="700" text-anchor="middle">40</text>
<rect x="648.20" y="1210.00" width="3.60" height="11.50" fill="#000"/>
<text x="650" y="1252.0" font-size="27.4" font-weight="700" text-anchor="middle">60</text>
<text x="383.8" y="1293.4" font-size="29.2" font-weight="700" text-anchor="middle">NAA40 (TPM)</text>
<text transform="translate(26.2,1032.4) rotate(-90)" font-size="29.1" font-weight="700" text-anchor="middle">PRMT5 (TPM)</text>
<text x="514.2" y="885.7" font-size="29.9" text-anchor="start">r=0.388</text>
<text x="514.2" y="926.5" font-size="28.9" text-anchor="start">p&lt;0.0001</text>
</g>
<g id="panelD">
<text transform="translate(1088.8,796) scale(1,1)" font-size="48.5">D</text>
<text x="1457.3" y="801" font-size="29.7" text-anchor="middle">Colorectal cancer</text>
<line x1="1215.40" y1="1120.00" x2="1679.60" y2="1108.00" stroke="#f00" stroke-width="3.2" stroke-linecap="butt"/>
<g fill="none" stroke="#000" stroke-width="1.9">
<circle cx="1400.5" cy="1115.8" r="7.2"/>
<circle cx="1340.7" cy="1116.7" r="7.2"/>
<circle cx="1322.8" cy="1127.6" r="7.2"/>
<circle cx="1355.3" cy="1104.1" r="7.2"/>
<circle cx="1310.9" cy="1114.9" r="7.2"/>
<circle cx="1364.4" cy="1130.7" r="7.2"/>
<circle cx="1296.6" cy="1104.6" r="7.2"/>
<circle cx="1366.1" cy="1147.3" r="7.2"/>
<circle cx="1339.9" cy="1110.8" r="7.2"/>
<circle cx="1378.3" cy="1116.0" r="7.2"/>
<circle cx="1365.7" cy="1146.9" r="7.2"/>
<circle cx="1362.4" cy="1122.7" r="7.2"/>
<circle cx="1365.9" cy="1110.8" r="7.2"/>
<circle cx="1334.9" cy="1112.7" r="7.2"/>
<circle cx="1334.1" cy="1114.2" r="7.2"/>
<circle cx="1334.7" cy="1115.9" r="7.2"/>
<circle cx="1344.0" cy="1123.0" r="7.2"/>
<circle cx="1351.1" cy="1144.9" r="7.2"/>
<circle cx="1332.9" cy="1101.9" r="7.2"/>
<circle cx="1335.1" cy="1123.7" r="7.2"/>
<circle cx="1377.3" cy="1103.6" r="7.2"/>
<circle cx="1348.4" cy="1123.8" r="7.2"/>
<circle cx="1361.4" cy="1133.0" r="7.2"/>
<circle cx="1378.0" cy="1129.9" r="7.2"/>
<circle cx="1354.4" cy="1123.7" r="7.2"/>
<circle cx="1382.1" cy="1107.1" r="7.2"/>
<circle cx="1336.2" cy="1128.5" r="7.2"/>
<circle cx="1314.0" cy="1121.5" r="7.2"/>
<circle cx="1323.0" cy="1148.2" r="7.2"/>
<circle cx="1304.3" cy="1115.8" r="7.2"/>
<circle cx="1358.5" cy="1129.1" r="7.2"/>
<circle cx="1361.2" cy="1127.6" r="7.2"/>
<circle cx="1386.7" cy="1137.6" r="7.2"/>
<circle cx="1361.2" cy="1110.3" r="7.2"/>
<circle cx="1364.4" cy="1091.4" r="7.2"/>
<circle cx="1304.9" cy="1111.6" r="7.2"/>
<circle cx="1324.8" cy="1136.1" r="7.2"/>
<circle cx="1311.6" cy="1120.6" r="7.2"/>
<circle cx="1323.2" cy="1118.3" r="7.2"/>
<circle cx="1384.9" cy="1105.0" r="7.2"/>
<circle cx="1343.4" cy="1126.4" r="7.2"/>
<circle cx="1370.2" cy="1100.5" r="7.2"/>
<circle cx="1378.9" cy="1128.2" r="7.2"/>
<circle cx="1370.7" cy="1122.5" r="7.2"/>
<circle cx="1285.3" cy="1112.7" r="7.2"/>
<circle cx="1368.8" cy="1121.9" r="7.2"/>
<circle cx="1339.3" cy="1151.6" r="7.2"/>
<circle cx="1332.1" cy="1131.8" r="7.2"/>
<circle cx="1358.6" cy="1120.1" r="7.2"/>
<circle cx="1364.2" cy="1123.9" r="7.2"/>
<circle cx="1288.9" cy="1126.9" r="7.2"/>
<circle cx="1347.3" cy="1152.0" r="7.2"/>
<circle cx="1302.6" cy="1123.2" r="7.2"/>
<circle cx="1326.6" cy="1120.2" r="7.2"/>
<circle cx="1397.4" cy="1126.9" r="7.2"/>
<circle cx="1325.2" cy="1124.9" r="7.2"/>
<circle cx="1367.0" cy="1105.0" r="7.2"/>
<circle cx="1332.0" cy="1147.6" r="7.2"/>
<circle cx="1370.1" cy="1120.6" r="7.2"/>
<circle cx="1324.8" cy="1119.9" r="7.2"/>
<circle cx="1288.3" cy="1138.8" r="7.2"/>
<circle cx="1352.6" cy="1124.0" r="7.2"/>
<circle cx="1296.9" cy="1111.3" r="7.2"/>
<circle cx="1358.5" cy="1125.8" r="7.2"/>
<circle cx="1324.1" cy="1130.7" r="7.2"/>
<circle cx="1372.9" cy="1110.1" r="7.2"/>
<circle cx="1323.0" cy="1108.1" r="7.2"/>
<circle cx="1301.7" cy="1136.1" r="7.2"/>
<circle cx="1358.3" cy="1127.2" r="7.2"/>
<circle cx="1301.1" cy="1105.7" r="7.2"/>
<circle cx="1338.7" cy="1115.2" r="7.2"/>
<circle cx="1345.1" cy="1110.4" r="7.2"/>
<circle cx="1363.2" cy="1151.1" r="7.2"/>
<circle cx="1343.4" cy="1137.1" r="7.2"/>
<circle cx="1328.2" cy="1137.5" r="7.2"/>
<circle cx="1328.1" cy="1114.3" r="7.2"/>
<circle cx="1319.1" cy="1134.1" r="7.2"/>
<circle cx="1350.4" cy="1124.8" r="7.2"/>
<circle cx="1302.2" cy="1125.3" r="7.2"/>
<circle cx="1336.5" cy="1125.3" r="7.2"/>
<circle cx="1337.4" cy="1096.0" r="7.2"/>
<circle cx="1294.4" cy="1122.7" r="7.2"/>
<circle cx="1391.7" cy="1102.4" r="7.2"/>
<circle cx="1317.0" cy="1121.8" r="7.2"/>
<circle cx="1327.0" cy="1121.6" r="7.2"/>
<circle cx="1327.7" cy="1147.6" r="7.2"/>
<circle cx="1335.4" cy="1128.1" r="7.2"/>
<circle cx="1287.0" cy="1117.1" r="7.2"/>
<circle cx="1380.5" cy="1098.3" r="7.2"/>
<circle cx="1309.6" cy="1101.4" r="7.2"/>
<circle cx="1294.7" cy="1104.4" r="7.2"/>
<circle cx="1347.0" cy="1142.8" r="7.2"/>
<circle cx="1393.0" cy="1120.9" r="7.2"/>
<circle cx="1274.0" cy="1122.7" r="7.2"/>
<circle cx="1329.5" cy="1128.1" r="7.2"/>
<circle cx="1336.6" cy="1092.5" r="7.2"/>
<circle cx="1317.5" cy="1127.7" r="7.2"/>
<circle cx="1352.9" cy="1147.6" r="7.2"/>
<circle cx="1364.4" cy="1116.0" r="7.2"/>
<circle cx="1362.7" cy="1103.3" r="7.2"/>
<circle cx="1363.3" cy="1130.3" r="7.2"/>
<circle cx="1307.6" cy="1111.8" r="7.2"/>
<circle cx="1334.5" cy="1111.3" r="7.2"/>
<circle cx="1376.5" cy="1124.0" r="7.2"/>
<circle cx="1385.7" cy="1140.3" r="7.2"/>
<circle cx="1343.1" cy="1118.8" r="7.2"/>
<circle cx="1308.8" cy="1109.5" r="7.2"/>
<circle cx="1313.8" cy="1128.4" r="7.2"/>
<circle cx="1311.0" cy="1124.0" r="7.2"/>
<circle cx="1347.5" cy="1113.7" r="7.2"/>
<circle cx="1334.7" cy="1146.0" r="7.2"/>
<circle cx="1395.8" cy="1107.8" r="7.2"/>
<circle cx="1334.4" cy="1116.0" r="7.2"/>
<circle cx="1331.6" cy="1147.5" r="7.2"/>
<circle cx="1364.3" cy="1142.2" r="7.2"/>
<circle cx="1401.4" cy="1113.3" r="7.2"/>
<circle cx="1334.6" cy="1122.8" r="7.2"/>
<circle cx="1375.9" cy="1119.7" r="7.2"/>
<circle cx="1363.0" cy="1140.7" r="7.2"/>
<circle cx="1380.5" cy="1128.4" r="7.2"/>
<circle cx="1314.2" cy="1097.0" r="7.2"/>
<circle cx="1379.1" cy="1128.6" r="7.2"/>
<circle cx="1309.1" cy="1114.5" r="7.2"/>
<circle cx="1325.7" cy="1094.8" r="7.2"/>
<circle cx="1349.6" cy="1108.8" r="7.2"/>
<circle cx="1331.0" cy="1134.4" r="7.2"/>
<circle cx="1337.7" cy="1131.0" r="7.2"/>
<circle cx="1355.4" cy="1122.2" r="7.2"/>
<circle cx="1342.7" cy="1152.6" r="7.2"/>
<circle cx="1335.2" cy="1149.0" r="7.2"/>
<circle cx="1309.9" cy="1134.8" r="7.2"/>
<circle cx="1346.8" cy="1109.8" r="7.2"/>
<circle cx="1301.7" cy="1107.1" r="7.2"/>
<circle cx="1345.4" cy="1122.8" r="7.2"/>
<circle cx="1350.5" cy="1117.6" r="7.2"/>
<circle cx="1290.0" cy="1137.5" r="7.2"/>
<circle cx="1310.2" cy="1126.4" r="7.2"/>
<circle cx="1360.5" cy="1141.0" r="7.2"/>
<circle cx="1333.6" cy="1117.1" r="7.2"/>
<circle cx="1333.1" cy="1091.7" r="7.2"/>
<circle cx="1315.3" cy="1106.1" r="7.2"/>
<circle cx="1301.9" cy="1125.7" r="7.2"/>
<circle cx="1330.4" cy="1148.6" r="7.2"/>
<circle cx="1345.2" cy="1105.4" r="7.2"/>
<circle cx="1359.9" cy="1124.1" r="7.2"/>
<circle cx="1372.6" cy="1126.4" r="7.2"/>
<circle cx="1366.9" cy="1116.5" r="7.2"/>
<circle cx="1311.9" cy="1114.6" r="7.2"/>
<circle cx="1306.6" cy="1149.7" r="7.2"/>
<circle cx="1335.3" cy="1143.5" r="7.2"/>
<circle cx="1329.5" cy="1149.5" r="7.2"/>
<circle cx="1300.2" cy="1132.9" r="7.2"/>
<circle cx="1295.8" cy="1130.4" r="7.2"/>
<circle cx="1311.4" cy="1126.8" r="7.2"/>
<circle cx="1334.7" cy="1099.6" r="7.2"/>
<circle cx="1380.3" cy="1121.9" r="7.2"/>
<circle cx="1385.0" cy="1126.2" r="7.2"/>
<circle cx="1301.8" cy="1115.0" r="7.2"/>
<circle cx="1388.0" cy="1098.0" r="7.2"/>
<circle cx="1325.2" cy="1132.3" r="7.2"/>
<circle cx="1375.5" cy="1134.8" r="7.2"/>
<circle cx="1335.4" cy="1122.3" r="7.2"/>
<circle cx="1340.9" cy="1118.2" r="7.2"/>
<circle cx="1308.1" cy="1117.4" r="7.2"/>
<circle cx="1386.0" cy="1098.5" r="7.2"/>
<circle cx="1352.5" cy="1133.7" r="7.2"/>
<circle cx="1399.7" cy="1108.6" r="7.2"/>
<circle cx="1347.0" cy="1130.1" r="7.2"/>
<circle cx="1382.9" cy="1137.9" r="7.2"/>
<circle cx="1312.3" cy="1100.0" r="7.2"/>
<circle cx="1331.7" cy="1095.6" r="7.2"/>
<circle cx="1378.7" cy="1114.6" r="7.2"/>
<circle cx="1328.9" cy="1107.6" r="7.2"/>
<circle cx="1392.8" cy="1125.5" r="7.2"/>
<circle cx="1327.0" cy="1132.4" r="7.2"/>
<circle cx="1338.1" cy="1131.9" r="7.2"/>
<circle cx="1385.8" cy="1116.5" r="7.2"/>
<circle cx="1358.4" cy="1129.5" r="7.2"/>
<circle cx="1379.6" cy="1130.9" r="7.2"/>
<circle cx="1342.1" cy="1111.4" r="7.2"/>
<circle cx="1351.0" cy="1104.5" r="7.2"/>
<circle cx="1363.3" cy="1122.4" r="7.2"/>
<circle cx="1359.7" cy="1113.0" r="7.2"/>
<circle cx="1313.7" cy="1107.6" r="7.2"/>
<circle cx="1378.6" cy="1117.5" r="7.2"/>
<circle cx="1333.2" cy="1092.7" r="7.2"/>
<circle cx="1387.3" cy="1116.9" r="7.2"/>
<circle cx="1341.7" cy="1098.4" r="7.2"/>
<circle cx="1303.7" cy="1132.9" r="7.2"/>
<circle cx="1333.9" cy="1129.2" r="7.2"/>
<circle cx="1384.2" cy="1131.9" r="7.2"/>
<circle cx="1302.4" cy="1107.9" r="7.2"/>
<circle cx="1315.7" cy="1112.8" r="7.2"/>
<circle cx="1358.6" cy="1116.2" r="7.2"/>
<circle cx="1293.7" cy="1127.3" r="7.2"/>
<circle cx="1331.7" cy="1105.9" r="7.2"/>
<circle cx="1367.1" cy="1139.3" r="7.2"/>
<circle cx="1385.5" cy="1114.3" r="7.2"/>
<circle cx="1340.7" cy="1125.7" r="7.2"/>
<circle cx="1342.9" cy="1138.7" r="7.2"/>
<circle cx="1324.2" cy="1128.5" r="7.2"/>
<circle cx="1396.7" cy="1120.2" r="7.2"/>
<circle cx="1376.2" cy="1093.7" r="7.2"/>
<circle cx="1329.6" cy="1096.8" r="7.2"/>
<circle cx="1351.8" cy="1130.3" r="7.2"/>
<circle cx="1294.3" cy="1109.1" r="7.2"/>
<circle cx="1338.5" cy="1124.0" r="7.2"/>
<circle cx="1353.2" cy="1126.6" r="7.2"/>
<circle cx="1332.8" cy="1100.2" r="7.2"/>
<circle cx="1317.8" cy="1149.5" r="7.2"/>
<circle cx="1349.7" cy="1115.6" r="7.2"/>
<circle cx="1294.9" cy="1122.2" r="7.2"/>
<circle cx="1342.0" cy="1111.2" r="7.2"/>
<circle cx="1371.3" cy="1111.5" r="7.2"/>
<circle cx="1335.2" cy="1136.0" r="7.2"/>
<circle cx="1348.6" cy="1140.3" r="7.2"/>
<circle cx="1333.2" cy="1115.0" r="7.2"/>
<circle cx="1356.9" cy="1125.1" r="7.2"/>
<circle cx="1381.3" cy="1127.7" r="7.2"/>
<circle cx="1340.1" cy="1129.4" r="7.2"/>
<circle cx="1363.3" cy="1103.0" r="7.2"/>
<circle cx="1336.1" cy="1116.6" r="7.2"/>
<circle cx="1381.8" cy="1113.0" r="7.2"/>
<circle cx="1377.2" cy="1100.3" r="7.2"/>
<circle cx="1339.1" cy="1139.6" r="7.2"/>
<circle cx="1332.1" cy="1141.2" r="7.2"/>
<circle cx="1346.5" cy="1119.8" r="7.2"/>
<circle cx="1289.7" cy="1134.2" r="7.2"/>
<circle cx="1350.9" cy="1138.0" r="7.2"/>
<circle cx="1332.4" cy="1103.9" r="7.2"/>
<circle cx="1323.5" cy="1114.8" r="7.2"/>
<circle cx="1361.4" cy="1116.4" r="7.2"/>
<circle cx="1355.1" cy="1129.7" r="7.2"/>
<circle cx="1327.4" cy="1133.7" r="7.2"/>
<circle cx="1364.6" cy="1112.3" r="7.2"/>
<circle cx="1332.3" cy="1120.8" r="7.2"/>
<circle cx="1345.8" cy="1112.8" r="7.2"/>
<circle cx="1319.6" cy="1104.3" r="7.2"/>
<circle cx="1328.6" cy="1145.4" r="7.2"/>
<circle cx="1309.3" cy="1138.9" r="7.2"/>
<circle cx="1407.5" cy="1124.1" r="7.2"/>
<circle cx="1398.5" cy="1120.3" r="7.2"/>
<circle cx="1300.8" cy="1129.2" r="7.2"/>
<circle cx="1406.2" cy="1111.3" r="7.2"/>
<circle cx="1358.5" cy="1105.8" r="7.2"/>
<circle cx="1312.2" cy="1130.8" r="7.2"/>
<circle cx="1336.1" cy="1132.1" r="7.2"/>
<circle cx="1385.7" cy="1102.2" r="7.2"/>
<circle cx="1319.1" cy="1124.0" r="7.2"/>
<circle cx="1326.3" cy="1130.4" r="7.2"/>
<circle cx="1332.6" cy="1123.9" r="7.2"/>
<circle cx="1300.9" cy="1096.7" r="7.2"/>
<circle cx="1348.7" cy="1131.8" r="7.2"/>
<circle cx="1376.3" cy="1113.8" r="7.2"/>
<circle cx="1360.2" cy="1125.8" r="7.2"/>
<circle cx="1366.0" cy="1130.0" r="7.2"/>
<circle cx="1352.9" cy="1143.7" r="7.2"/>
<circle cx="1325.1" cy="1126.0" r="7.2"/>
<circle cx="1382.6" cy="1113.4" r="7.2"/>
<circle cx="1331.7" cy="1111.5" r="7.2"/>
<circle cx="1369.4" cy="1124.3" r="7.2"/>
<circle cx="1335.0" cy="1128.2" r="7.2"/>
<circle cx="1343.1" cy="1138.7" r="7.2"/>
<circle cx="1315.0" cy="1127.2" r="7.2"/>
<circle cx="1360.3" cy="1119.5" r="7.2"/>
<circle cx="1336.7" cy="1132.9" r="7.2"/>
<circle cx="1363.6" cy="1121.5" r="7.2"/>
<circle cx="1344.1" cy="1114.5" r="7.2"/>
<circle cx="1363.4" cy="1121.2" r="7.2"/>
<circle cx="1291.2" cy="1119.7" r="7.2"/>
<circle cx="1365.2" cy="1127.6" r="7.2"/>
<circle cx="1314.0" cy="1136.2" r="7.2"/>
<circle cx="1364.6" cy="1132.9" r="7.2"/>
<circle cx="1395.7" cy="1116.6" r="7.2"/>
<circle cx="1364.2" cy="1118.5" r="7.2"/>
<circle cx="1377.0" cy="1141.4" r="7.2"/>
<circle cx="1360.0" cy="1134.9" r="7.2"/>
<circle cx="1315.7" cy="1133.9" r="7.2"/>
<circle cx="1382.1" cy="1096.7" r="7.2"/>
<circle cx="1313.3" cy="1132.2" r="7.2"/>
<circle cx="1298.1" cy="1124.7" r="7.2"/>
<circle cx="1320.0" cy="1132.8" r="7.2"/>
<circle cx="1330.5" cy="1147.1" r="7.2"/>
<circle cx="1316.0" cy="1144.0" r="7.2"/>
<circle cx="1341.1" cy="1130.9" r="7.2"/>
<circle cx="1377.2" cy="1101.1" r="7.2"/>
<circle cx="1329.9" cy="1117.2" r="7.2"/>
<circle cx="1310.8" cy="1126.2" r="7.2"/>
<circle cx="1293.4" cy="1103.7" r="7.2"/>
<circle cx="1372.7" cy="1108.1" r="7.2"/>
<circle cx="1366.5" cy="1132.4" r="7.2"/>
<circle cx="1392.8" cy="1128.3" r="7.2"/>
<circle cx="1278.9" cy="1112.9" r="7.2"/>
<circle cx="1327.2" cy="1142.6" r="7.2"/>
<circle cx="1352.8" cy="1113.7" r="7.2"/>
<circle cx="1355.9" cy="1115.8" r="7.2"/>
<circle cx="1359.7" cy="1124.1" r="7.2"/>
<circle cx="1378.7" cy="1126.6" r="7.2"/>
<circle cx="1374.9" cy="1121.0" r="7.2"/>
<circle cx="1365.2" cy="1118.9" r="7.2"/>
<circle cx="1362.9" cy="1125.2" r="7.2"/>
<circle cx="1336.8" cy="1115.2" r="7.2"/>
<circle cx="1331.7" cy="1130.0" r="7.2"/>
<circle cx="1329.8" cy="1134.5" r="7.2"/>
<circle cx="1349.0" cy="1121.1" r="7.2"/>
<circle cx="1343.9" cy="1137.5" r="7.2"/>
<circle cx="1315.0" cy="1116.5" r="7.2"/>
<circle cx="1360.0" cy="1126.9" r="7.2"/>
<circle cx="1296.0" cy="1138.7" r="7.2"/>
<circle cx="1296.3" cy="1118.7" r="7.2"/>
<circle cx="1386.0" cy="1099.2" r="7.2"/>
<circle cx="1329.3" cy="1149.8" r="7.2"/>
<circle cx="1332.1" cy="1104.9" r="7.2"/>
<circle cx="1321.2" cy="1136.3" r="7.2"/>
<circle cx="1287.6" cy="1112.9" r="7.2"/>
<circle cx="1291.4" cy="1104.1" r="7.2"/>
<circle cx="1384.8" cy="1119.5" r="7.2"/>
<circle cx="1326.0" cy="1129.4" r="7.2"/>
<circle cx="1316.7" cy="1102.7" r="7.2"/>
<circle cx="1380.0" cy="1135.5" r="7.2"/>
<circle cx="1312.2" cy="1134.3" r="7.2"/>
<circle cx="1390.6" cy="1128.9" r="7.2"/>
<circle cx="1358.0" cy="1101.1" r="7.2"/>
<circle cx="1336.4" cy="1091.2" r="7.2"/>
<circle cx="1378.9" cy="1118.2" r="7.2"/>
<circle cx="1386.1" cy="1108.1" r="7.2"/>
<circle cx="1370.8" cy="1095.0" r="7.2"/>
<circle cx="1327.1" cy="1131.3" r="7.2"/>
<circle cx="1353.1" cy="1120.7" r="7.2"/>
<circle cx="1363.5" cy="1140.3" r="7.2"/>
<circle cx="1379.5" cy="1114.8" r="7.2"/>
<circle cx="1312.3" cy="1129.4" r="7.2"/>
<circle cx="1321.7" cy="1151.5" r="7.2"/>
<circle cx="1346.9" cy="1104.5" r="7.2"/>
<circle cx="1320.2" cy="1099.1" r="7.2"/>
<circle cx="1315.9" cy="1103.7" r="7.2"/>
<circle cx="1346.0" cy="1108.1" r="7.2"/>
<circle cx="1348.6" cy="1151.3" r="7.2"/>
<circle cx="1300.4" cy="1102.7" r="7.2"/>
<circle cx="1310.8" cy="1094.5" r="7.2"/>
<circle cx="1330.9" cy="1115.4" r="7.2"/>
<circle cx="1365.3" cy="1103.6" r="7.2"/>
<circle cx="1331.8" cy="1117.0" r="7.2"/>
<circle cx="1356.2" cy="1130.7" r="7.2"/>
<circle cx="1313.4" cy="1148.7" r="7.2"/>
<circle cx="1373.1" cy="1128.9" r="7.2"/>
<circle cx="1361.9" cy="1127.3" r="7.2"/>
<circle cx="1365.8" cy="1135.8" r="7.2"/>
<circle cx="1335.2" cy="1108.1" r="7.2"/>
<circle cx="1299.7" cy="1132.9" r="7.2"/>
<circle cx="1318.6" cy="1101.8" r="7.2"/>
<circle cx="1391.7" cy="1115.9" r="7.2"/>
<circle cx="1310.5" cy="1117.8" r="7.2"/>
<circle cx="1372.5" cy="1127.8" r="7.2"/>
<circle cx="1327.8" cy="1149.5" r="7.2"/>
<circle cx="1358.3" cy="1134.7" r="7.2"/>
<circle cx="1335.2" cy="1124.2" r="7.2"/>
<circle cx="1371.1" cy="1132.2" r="7.2"/>
<circle cx="1353.7" cy="1096.6" r="7.2"/>
<circle cx="1302.9" cy="1118.3" r="7.2"/>
<circle cx="1366.0" cy="1145.6" r="7.2"/>
<circle cx="1324.6" cy="1120.3" r="7.2"/>
<circle cx="1347.8" cy="1107.2" r="7.2"/>
<circle cx="1294.5" cy="1139.9" r="7.2"/>
<circle cx="1366.6" cy="1114.1" r="7.2"/>
<circle cx="1336.2" cy="1110.2" r="7.2"/>
<circle cx="1291.5" cy="1133.9" r="7.2"/>
<circle cx="1317.2" cy="1103.4" r="7.2"/>
<circle cx="1319.5" cy="1149.8" r="7.2"/>
<circle cx="1355.8" cy="1125.3" r="7.2"/>
<circle cx="1343.5" cy="1136.2" r="7.2"/>
<circle cx="1365.8" cy="1099.1" r="7.2"/>
<circle cx="1332.0" cy="1110.9" r="7.2"/>
<circle cx="1347.7" cy="1120.4" r="7.2"/>
<circle cx="1349.2" cy="1092.2" r="7.2"/>
<circle cx="1379.8" cy="1122.7" r="7.2"/>
<circle cx="1356.4" cy="1121.6" r="7.2"/>
<circle cx="1345.5" cy="1112.8" r="7.2"/>
<circle cx="1281.9" cy="1112.4" r="7.2"/>
<circle cx="1345.9" cy="1121.8" r="7.2"/>
<circle cx="1362.1" cy="1119.1" r="7.2"/>
<circle cx="1311.1" cy="1099.2" r="7.2"/>
<circle cx="1327.9" cy="1098.4" r="7.2"/>
<circle cx="1351.4" cy="1105.2" r="7.2"/>
<circle cx="1406.0" cy="1115.1" r="7.2"/>
<circle cx="1319.4" cy="1110.4" r="7.2"/>
<circle cx="1312.2" cy="1115.9" r="7.2"/>
<circle cx="1383.1" cy="1112.6" r="7.2"/>
<circle cx="1336.8" cy="1128.2" r="7.2"/>
<circle cx="1311.0" cy="1114.3" r="7.2"/>
<circle cx="1357.6" cy="1071.8" r="7.2"/>
<circle cx="1384.2" cy="1075.6" r="7.2"/>
<circle cx="1402.0" cy="1083.8" r="7.2"/>
<circle cx="1414.8" cy="1112.9" r="7.2"/>
<circle cx="1397.7" cy="1092.0" r="7.2"/>
<circle cx="1291.5" cy="1152.0" r="7.2"/>
<circle cx="1293.1" cy="1100.1" r="7.2"/>
<circle cx="1414.5" cy="1124.8" r="7.2"/>
<circle cx="1265.5" cy="1147.8" r="7.2"/>
<circle cx="1284.4" cy="1092.4" r="7.2"/>
<circle cx="1440.1" cy="1088.5" r="7.2"/>
<circle cx="1236.2" cy="1124.8" r="7.2"/>
<circle cx="1324.3" cy="1084.6" r="7.2"/>
<circle cx="1390.3" cy="1077.8" r="7.2"/>
<circle cx="1274.0" cy="1087.6" r="7.2"/>
<circle cx="1287.7" cy="1098.4" r="7.2"/>
<circle cx="1423.3" cy="1100.1" r="7.2"/>
<circle cx="1416.0" cy="1149.4" r="7.2"/>
<circle cx="1273.4" cy="1145.9" r="7.2"/>
<circle cx="1278.2" cy="1085.4" r="7.2"/>
<circle cx="1319.8" cy="1077.9" r="7.2"/>
<circle cx="1262.3" cy="1093.7" r="7.2"/>
<circle cx="1351.4" cy="1163.4" r="7.2"/>
<circle cx="1401.0" cy="1128.9" r="7.2"/>
<circle cx="1379.6" cy="1155.1" r="7.2"/>
<circle cx="1249.4" cy="1122.2" r="7.2"/>
<circle cx="1286.1" cy="1126.9" r="7.2"/>
<circle cx="1286.8" cy="1143.5" r="7.2"/>
<circle cx="1285.8" cy="1148.1" r="7.2"/>
<circle cx="1251.6" cy="1131.5" r="7.2"/>
<circle cx="1271.1" cy="1088.5" r="7.2"/>
<circle cx="1282.3" cy="1109.3" r="7.2"/>
<circle cx="1374.5" cy="1146.3" r="7.2"/>
<circle cx="1277.7" cy="1104.5" r="7.2"/>
<circle cx="1295.1" cy="1076.3" r="7.2"/>
<circle cx="1413.1" cy="1082.8" r="7.2"/>
<circle cx="1282.5" cy="1138.4" r="7.2"/>
<circle cx="1437.5" cy="1094.1" r="7.2"/>
<circle cx="1349.3" cy="1073.2" r="7.2"/>
<circle cx="1411.0" cy="1120.3" r="7.2"/>
<circle cx="1261.2" cy="1124.6" r="7.2"/>
<circle cx="1404.3" cy="1125.6" r="7.2"/>
<circle cx="1380.9" cy="1147.0" r="7.2"/>
<circle cx="1331.6" cy="1086.1" r="7.2"/>
<circle cx="1356.7" cy="1086.3" r="7.2"/>
<circle cx="1412.1" cy="1114.0" r="7.2"/>
<circle cx="1405.0" cy="1104.4" r="7.2"/>
<circle cx="1303.8" cy="1073.4" r="7.2"/>
<circle cx="1306.5" cy="1095.1" r="7.2"/>
<circle cx="1381.1" cy="1081.5" r="7.2"/>
<circle cx="1264.1" cy="1101.4" r="7.2"/>
<circle cx="1429.5" cy="1112.6" r="7.2"/>
<circle cx="1433.4" cy="1147.2" r="7.2"/>
<circle cx="1319.6" cy="1162.7" r="7.2"/>
<circle cx="1263.0" cy="1098.9" r="7.2"/>
<circle cx="1284.9" cy="1130.6" r="7.2"/>
<circle cx="1381.2" cy="1164.7" r="7.2"/>
<circle cx="1358.0" cy="1152.8" r="7.2"/>
<circle cx="1410.8" cy="1125.7" r="7.2"/>
<circle cx="1383.4" cy="1081.9" r="7.2"/>
<circle cx="1335.5" cy="1163.6" r="7.2"/>
<circle cx="1396.0" cy="1133.8" r="7.2"/>
<circle cx="1353.8" cy="1154.7" r="7.2"/>
<circle cx="1307.1" cy="1086.5" r="7.2"/>
<circle cx="1408.9" cy="1137.4" r="7.2"/>
<circle cx="1412.1" cy="1128.5" r="7.2"/>
<circle cx="1312.1" cy="1157.0" r="7.2"/>
<circle cx="1314.9" cy="1149.0" r="7.2"/>
<circle cx="1284.6" cy="1103.9" r="7.2"/>
<circle cx="1315.0" cy="1089.0" r="7.2"/>
<circle cx="1271.7" cy="1094.6" r="7.2"/>
<circle cx="1401.9" cy="1083.8" r="7.2"/>
<circle cx="1394.9" cy="1085.2" r="7.2"/>
<circle cx="1390.0" cy="1093.8" r="7.2"/>
<circle cx="1316.3" cy="1158.7" r="7.2"/>
<circle cx="1301.4" cy="1087.2" r="7.2"/>
<circle cx="1420.6" cy="1112.1" r="7.2"/>
<circle cx="1450.4" cy="1129.1" r="7.2"/>
<circle cx="1271.6" cy="1138.3" r="7.2"/>
<circle cx="1287.3" cy="1143.4" r="7.2"/>
<circle cx="1444.0" cy="1097.8" r="7.2"/>
<circle cx="1327.9" cy="1076.1" r="7.2"/>
<circle cx="1409.1" cy="1111.3" r="7.2"/>
<circle cx="1284.7" cy="1164.4" r="7.2"/>
<circle cx="1381.0" cy="1079.6" r="7.2"/>
<circle cx="1343.9" cy="1086.1" r="7.2"/>
<circle cx="1336.1" cy="1165.6" r="7.2"/>
<circle cx="1260.7" cy="1140.6" r="7.2"/>
<circle cx="1299.2" cy="1153.5" r="7.2"/>
<circle cx="1276.4" cy="1133.9" r="7.2"/>
<circle cx="1401.6" cy="1092.3" r="7.2"/>
<circle cx="1400.9" cy="1137.0" r="7.2"/>
<circle cx="1349.3" cy="1063.2" r="7.2"/>
<circle cx="1371.4" cy="1085.3" r="7.2"/>
<circle cx="1436.2" cy="1094.7" r="7.2"/>
<circle cx="1307.8" cy="1079.6" r="7.2"/>
<circle cx="1418.1" cy="1126.3" r="7.2"/>
<circle cx="1289.7" cy="1141.0" r="7.2"/>
<circle cx="1283.5" cy="1103.9" r="7.2"/>
<circle cx="1413.0" cy="1117.1" r="7.2"/>
<circle cx="1381.3" cy="1091.0" r="7.2"/>
<circle cx="1400.2" cy="1100.7" r="7.2"/>
<circle cx="1413.9" cy="1088.9" r="7.2"/>
<circle cx="1428.0" cy="1127.4" r="7.2"/>
<circle cx="1286.5" cy="1106.2" r="7.2"/>
<circle cx="1410.9" cy="1092.7" r="7.2"/>
<circle cx="1441.7" cy="1106.2" r="7.2"/>
<circle cx="1250.7" cy="1145.2" r="7.2"/>
<circle cx="1346.7" cy="1083.2" r="7.2"/>
<circle cx="1261.6" cy="1155.0" r="7.2"/>
<circle cx="1263.9" cy="1100.8" r="7.2"/>
<circle cx="1254.9" cy="1128.7" r="7.2"/>
<circle cx="1414.5" cy="1111.6" r="7.2"/>
<circle cx="1325.4" cy="1153.2" r="7.2"/>
<circle cx="1392.2" cy="1092.6" r="7.2"/>
<circle cx="1442.0" cy="1122.7" r="7.2"/>
<circle cx="1336.6" cy="1082.4" r="7.2"/>
<circle cx="1364.3" cy="1155.9" r="7.2"/>
<circle cx="1396.2" cy="1090.4" r="7.2"/>
<circle cx="1295.8" cy="1093.3" r="7.2"/>
<circle cx="1408.1" cy="1093.1" r="7.2"/>
<circle cx="1301.4" cy="1097.7" r="7.2"/>
<circle cx="1269.5" cy="1089.6" r="7.2"/>
<circle cx="1337.0" cy="1158.4" r="7.2"/>
<circle cx="1257.8" cy="1099.1" r="7.2"/>
<circle cx="1240.7" cy="1129.2" r="7.2"/>
<circle cx="1323.8" cy="1084.0" r="7.2"/>
<circle cx="1376.7" cy="1166.6" r="7.2"/>
<circle cx="1399.3" cy="1086.0" r="7.2"/>
<circle cx="1361.1" cy="1150.3" r="7.2"/>
<circle cx="1430.6" cy="1088.5" r="7.2"/>
<circle cx="1344.8" cy="1079.2" r="7.2"/>
<circle cx="1394.2" cy="1091.1" r="7.2"/>
<circle cx="1391.7" cy="1148.0" r="7.2"/>
<circle cx="1315.7" cy="1158.8" r="7.2"/>
<circle cx="1405.0" cy="1128.1" r="7.2"/>
<circle cx="1252.2" cy="1141.0" r="7.2"/>
<circle cx="1320.4" cy="1090.1" r="7.2"/>
<circle cx="1370.3" cy="1084.6" r="7.2"/>
<circle cx="1321.1" cy="1155.8" r="7.2"/>
<circle cx="1407.7" cy="1084.7" r="7.2"/>
<circle cx="1297.7" cy="1150.5" r="7.2"/>
<circle cx="1331.7" cy="1155.8" r="7.2"/>
<circle cx="1391.6" cy="1152.3" r="7.2"/>
<circle cx="1314.2" cy="1173.0" r="7.2"/>
<circle cx="1444.9" cy="1126.0" r="7.2"/>
<circle cx="1422.0" cy="1081.0" r="7.2"/>
<circle cx="1261.7" cy="1140.1" r="7.2"/>
<circle cx="1344.7" cy="1154.0" r="7.2"/>
<circle cx="1360.4" cy="1086.7" r="7.2"/>
<circle cx="1305.1" cy="1079.8" r="7.2"/>
<circle cx="1333.1" cy="1075.9" r="7.2"/>
<circle cx="1391.5" cy="1076.9" r="7.2"/>
<circle cx="1391.7" cy="1081.2" r="7.2"/>
<circle cx="1397.1" cy="1056.4" r="7.2"/>
<circle cx="1301.9" cy="1053.6" r="7.2"/>
<circle cx="1358.6" cy="1066.8" r="7.2"/>
<circle cx="1373.4" cy="1074.1" r="7.2"/>
<circle cx="1360.5" cy="1069.7" r="7.2"/>
<circle cx="1293.7" cy="1085.5" r="7.2"/>
<circle cx="1375.0" cy="1055.9" r="7.2"/>
<circle cx="1328.9" cy="1073.1" r="7.2"/>
<circle cx="1266.2" cy="1066.4" r="7.2"/>
<circle cx="1355.6" cy="1094.6" r="7.2"/>
<circle cx="1308.9" cy="1064.1" r="7.2"/>
<circle cx="1344.1" cy="1076.7" r="7.2"/>
<circle cx="1351.7" cy="1050.3" r="7.2"/>
<circle cx="1302.9" cy="1071.3" r="7.2"/>
<circle cx="1321.7" cy="1084.8" r="7.2"/>
<circle cx="1321.5" cy="1065.2" r="7.2"/>
<circle cx="1412.7" cy="1068.9" r="7.2"/>
<circle cx="1293.8" cy="1070.0" r="7.2"/>
<circle cx="1325.2" cy="1079.2" r="7.2"/>
<circle cx="1354.0" cy="1065.7" r="7.2"/>
<circle cx="1318.9" cy="1063.1" r="7.2"/>
<circle cx="1332.6" cy="1077.3" r="7.2"/>
<circle cx="1350.1" cy="1063.3" r="7.2"/>
<circle cx="1313.0" cy="1063.7" r="7.2"/>
<circle cx="1354.0" cy="1082.0" r="7.2"/>
<circle cx="1326.3" cy="1065.1" r="7.2"/>
<circle cx="1296.0" cy="1059.9" r="7.2"/>
<circle cx="1316.6" cy="1077.1" r="7.2"/>
<circle cx="1299.1" cy="1076.1" r="7.2"/>
<circle cx="1304.7" cy="1077.3" r="7.2"/>
<circle cx="1321.8" cy="1064.4" r="7.2"/>
<circle cx="1369.2" cy="1054.6" r="7.2"/>
<circle cx="1302.7" cy="1079.5" r="7.2"/>
<circle cx="1367.2" cy="1072.7" r="7.2"/>
<circle cx="1349.6" cy="1065.6" r="7.2"/>
<circle cx="1408.5" cy="1076.5" r="7.2"/>
<circle cx="1390.9" cy="1061.5" r="7.2"/>
<circle cx="1342.8" cy="1061.5" r="7.2"/>
<circle cx="1287.9" cy="1065.5" r="7.2"/>
<circle cx="1296.7" cy="1060.3" r="7.2"/>
<circle cx="1302.6" cy="1064.6" r="7.2"/>
<circle cx="1296.6" cy="910.0" r="7.2"/>
<circle cx="1268.0" cy="954.4" r="7.2"/>
<circle cx="1290.4" cy="973.6" r="7.2"/>
<circle cx="1375.0" cy="995.0" r="7.2"/>
<circle cx="1542.6" cy="1087.2" r="7.2"/>
<circle cx="1599.1" cy="1074.5" r="7.2"/>
<circle cx="1641.1" cy="1087.7" r="7.2"/>
<circle cx="1679.9" cy="1109.8" r="7.2"/>
<circle cx="1543.5" cy="1130.4" r="7.2"/>
<circle cx="1560.4" cy="1141.4" r="7.2"/>
<circle cx="1574.2" cy="1126.9" r="7.2"/>
<circle cx="1586.9" cy="1133.4" r="7.2"/>
<circle cx="1531.0" cy="1108.4" r="7.2"/>
<circle cx="1520.7" cy="1114.7" r="7.2"/>
<circle cx="1294.2" cy="1014.6" r="7.2"/>
<circle cx="1314.3" cy="1013.7" r="7.2"/>
<circle cx="1348.1" cy="1005.5" r="7.2"/>
<circle cx="1338.6" cy="1021.9" r="7.2"/>
<circle cx="1261.3" cy="1035.7" r="7.2"/>
<circle cx="1273.1" cy="1039.3" r="7.2"/>
<circle cx="1279.0" cy="1037.5" r="7.2"/>
<circle cx="1307.9" cy="1039.3" r="7.2"/>
<circle cx="1340.8" cy="1035.7" r="7.2"/>
<circle cx="1347.7" cy="1038.4" r="7.2"/>
<circle cx="1285.9" cy="1051.2" r="7.2"/>
<circle cx="1302.4" cy="1050.3" r="7.2"/>
<circle cx="1355.4" cy="1049.4" r="7.2"/>
<circle cx="1249.4" cy="1061.3" r="7.2"/>
<circle cx="1266.7" cy="1064.0" r="7.2"/>
<circle cx="1238.4" cy="1081.7" r="7.2"/>
<circle cx="1236.2" cy="1103.9" r="7.2"/>
<circle cx="1262.2" cy="1092.3" r="7.2"/>
<circle cx="1411.2" cy="1032.0" r="7.2"/>
<circle cx="1442.8" cy="1032.9" r="7.2"/>
<circle cx="1397.5" cy="1045.7" r="7.2"/>
<circle cx="1408.4" cy="1043.0" r="7.2"/>
<circle cx="1425.8" cy="1048.5" r="7.2"/>
<circle cx="1434.0" cy="1043.9" r="7.2"/>
<circle cx="1447.2" cy="1062.7" r="7.2"/>
<circle cx="1398.9" cy="1073.1" r="7.2"/>
<circle cx="1424.5" cy="1072.2" r="7.2"/>
<circle cx="1435.9" cy="1076.8" r="7.2"/>
<circle cx="1460.6" cy="1079.9" r="7.2"/>
<circle cx="1456.0" cy="1082.3" r="7.2"/>
<circle cx="1509.9" cy="1104.2" r="7.2"/>
<circle cx="1498.0" cy="1107.0" r="7.2"/>
<circle cx="1488.9" cy="1108.8" r="7.2"/>
<circle cx="1468.8" cy="1106.1" r="7.2"/>
<circle cx="1502.6" cy="1126.2" r="7.2"/>
<circle cx="1491.6" cy="1128.0" r="7.2"/>
<circle cx="1475.2" cy="1128.0" r="7.2"/>
<circle cx="1474.3" cy="1144.5" r="7.2"/>
<circle cx="1477.0" cy="1153.6" r="7.2"/>
<circle cx="1457.8" cy="1150.9" r="7.2"/>
<circle cx="1432.2" cy="1148.1" r="7.2"/>
<circle cx="1422.2" cy="1145.4" r="7.2"/>
<circle cx="1214.6" cy="1185.6" r="7.2"/>
<circle cx="1234.4" cy="1193.8" r="7.2"/>
<circle cx="1247.9" cy="1186.5" r="7.2"/>
<circle cx="1244.8" cy="1180.1" r="7.2"/>
<circle cx="1264.4" cy="1190.2" r="7.2"/>
<circle cx="1237.5" cy="1164.6" r="7.2"/>
<circle cx="1242.4" cy="1166.4" r="7.2"/>
<circle cx="1262.2" cy="1165.5" r="7.2"/>
<circle cx="1292.3" cy="1175.5" r="7.2"/>
<circle cx="1332.0" cy="1176.4" r="7.2"/>
<circle cx="1331.7" cy="1171.0" r="7.2"/>
<circle cx="1349.9" cy="1181.9" r="7.2"/>
<circle cx="1373.7" cy="1181.0" r="7.2"/>
<circle cx="1378.3" cy="1171.0" r="7.2"/>
<circle cx="1396.6" cy="1170.0" r="7.2"/>
<circle cx="1404.8" cy="1160.9" r="7.2"/>
<circle cx="1236.6" cy="1139.9" r="7.2"/>
<circle cx="1233.8" cy="1139.0" r="7.2"/>
<circle cx="1244.8" cy="1146.3" r="7.2"/>
</g>
<rect x="1193.10" y="846.60" width="3.80" height="373.80" fill="#000"/>
<rect x="1184.50" y="1207.80" width="552.80" height="3.80" fill="#000"/>
<rect x="1184.50" y="846.60" width="10.50" height="3.60" fill="#000"/>
<text x="1175.9" y="857.4" font-size="27.4" font-weight="700" text-anchor="end">50</text>
<rect x="1184.50" y="918.90" width="10.50" height="3.60" fill="#000"/>
<text x="1175.9" y="929.7" font-size="27.4" font-weight="700" text-anchor="end">40</text>
<rect x="1184.50" y="990.90" width="10.50" height="3.60" fill="#000"/>
<text x="1175.9" y="1001.7" font-size="27.4" font-weight="700" text-anchor="end">30</text>
<rect x="1184.50" y="1064.00" width="10.50" height="3.60" fill="#000"/>
<text x="1175.9" y="1074.8" font-size="27.4" font-weight="700" text-anchor="end">20</text>
<rect x="1184.50" y="1136.20" width="10.50" height="3.60" fill="#000"/>
<text x="1175.9" y="1147.0" font-size="27.4" font-weight="700" text-anchor="end">10</text>
<rect x="1184.50" y="1207.90" width="10.50" height="3.60" fill="#000"/>
<text x="1175.9" y="1218.7" font-size="27.4" font-weight="700" text-anchor="end">0</text>
<rect x="1193.20" y="1209.00" width="3.60" height="11.40" fill="#000"/>
<text x="1195" y="1251.0" font-size="27.4" font-weight="700" text-anchor="middle">0</text>
<rect x="1301.10" y="1209.00" width="3.60" height="11.40" fill="#000"/>
<text x="1302.9" y="1251.0" font-size="27.4" font-weight="700" text-anchor="middle">10</text>
<rect x="1409.20" y="1209.00" width="3.60" height="11.40" fill="#000"/>
<text x="1411" y="1251.0" font-size="27.4" font-weight="700" text-anchor="middle">20</text>
<rect x="1517.10" y="1209.00" width="3.60" height="11.40" fill="#000"/>
<text x="1518.9" y="1251.0" font-size="27.4" font-weight="700" text-anchor="middle">30</text>
<rect x="1625.60" y="1209.00" width="3.60" height="11.40" fill="#000"/>
<text x="1627.4" y="1251.0" font-size="27.4" font-weight="700" text-anchor="middle">40</text>
<rect x="1733.70" y="1209.00" width="3.60" height="11.40" fill="#000"/>
<text x="1735.5" y="1251.0" font-size="27.4" font-weight="700" text-anchor="middle">50</text>
<text x="1466.6" y="1293.4" font-size="29.4" font-weight="700" text-anchor="middle">NAA40 (TPM)</text>
<text transform="translate(1112.7,1029) rotate(-90)" font-size="29.7" font-weight="700" text-anchor="middle">PRMT7 (TPM)</text>
<text x="1701.3" y="880.3" font-size="30.3" text-anchor="end">r=0.050</text>
<text x="1701" y="921.5" font-size="29.4" text-anchor="end">p=0.201</text>
</g>
</svg>
</body></html>
